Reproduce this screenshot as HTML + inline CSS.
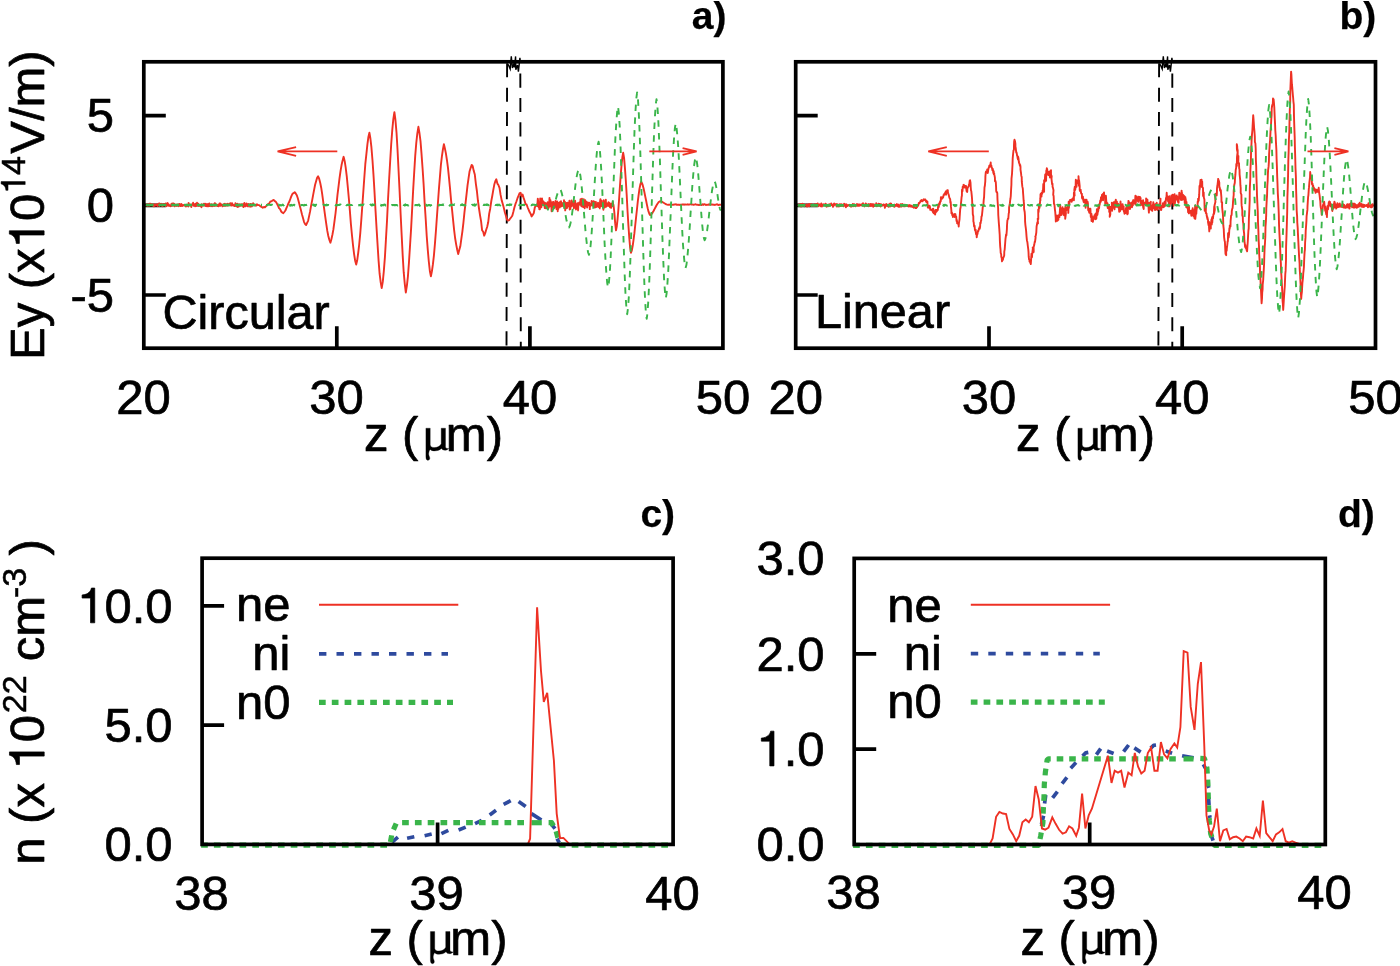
<!DOCTYPE html>
<html><head><meta charset="utf-8"><title>Figure</title>
<style>
html,body{margin:0;padding:0;background:#fff;}
body{width:1400px;height:966px;overflow:hidden;}
svg{display:block;font-family:"Liberation Sans",sans-serif;fill:#000;will-change:transform;}
</style></head><body>
<svg width="1400" height="966" viewBox="0 0 1400 966">
<rect width="1400" height="966" fill="#fff"/>
<path d="M336.8,348.2V326.2M529.9,348.2V326.2M143.8,115.7H165.8M143.8,205.3H165.8M143.8,295.0H165.8" stroke="#000" stroke-width="3.7" fill="none"/>
<line x1="507.1" y1="63.3" x2="506.5" y2="348.2" stroke="#000" stroke-width="1.9" stroke-dasharray="14.05 10.32" stroke-dashoffset="0"/>
<line x1="520.3" y1="63.3" x2="520.8" y2="348.2" stroke="#000" stroke-width="1.9" stroke-dasharray="14.05 10.32" stroke-dashoffset="-10.3"/>
<polyline points="508.1,64.2 510.2,68.9 511.3,56.4 512.4,68.0 513.7,64.2 514.5,67.2 515.6,56.4 515.8,69.7 517.5,65.0 518.4,71.7 519.9,57.9 520.5,62.9" fill="none" stroke="#000" stroke-width="1.4" stroke-linejoin="miter" />
<polyline points="145.7,204.8 146.0,205.4 146.3,204.8 146.6,204.7 146.9,204.3 147.2,204.8 147.5,205.9 147.8,205.3 148.1,205.8 148.4,205.2 148.7,205.3 149.0,205.1 149.3,203.7 149.6,205.7 149.9,205.4 150.2,205.4 150.5,203.6 150.8,203.6 151.1,204.3 151.4,204.6 151.7,205.2 152.0,205.0 152.3,205.4 152.6,204.5 152.9,205.2 153.2,205.3 153.5,204.5 153.8,206.4 154.1,205.4 154.4,206.0 154.7,204.5 155.0,204.4 155.3,204.7 155.6,204.9 155.9,205.5 156.2,205.2 156.5,204.6 156.8,204.2 157.1,204.6 157.4,206.0 157.7,204.3 158.0,205.2 158.3,205.3 158.6,203.8 158.9,205.0 159.2,206.1 159.5,203.4 159.8,204.7 160.1,204.9 160.4,204.3 160.7,205.4 161.0,204.9 161.3,203.8 161.6,205.7 161.9,205.5 162.2,205.8 162.5,206.2 162.8,205.3 163.1,205.1 163.4,204.0 163.7,205.5 164.0,204.5 164.3,204.6 164.6,204.0 164.9,204.2 165.2,204.6 165.5,206.0 165.8,203.4 166.1,203.8 166.4,205.2 166.7,206.2 167.0,205.5 167.3,203.5 167.6,203.0 167.9,205.3 168.2,204.4 168.5,204.1 168.8,205.8 169.1,205.9 169.4,205.1 169.7,205.2 170.0,205.4 170.3,206.3 170.6,205.5 170.9,205.4 171.2,205.4 171.5,203.7 171.8,206.0 172.1,205.8 172.4,205.4 172.7,203.4 173.0,204.5 173.3,205.7 173.6,203.5 173.9,204.9 174.2,205.8 174.5,203.9 174.8,206.3 175.1,205.4 175.4,204.9 175.7,205.3 176.0,205.5 176.3,205.1 176.6,205.9 176.9,204.5 177.2,204.7 177.5,205.8 177.8,205.0 178.1,204.3 178.4,205.8 178.7,206.2 179.0,204.6 179.3,203.9 179.6,204.9 179.9,204.9 180.2,204.8 180.5,206.1 180.8,204.2 181.1,206.0 181.4,204.0 181.7,204.4 182.0,205.5 182.3,205.9 182.6,205.7 182.9,205.3 183.2,205.1 183.5,205.1 183.8,205.5 184.1,204.9 184.4,205.2 184.7,205.5 185.0,205.0 185.3,205.6 185.6,205.5 185.9,206.6 186.2,205.3 186.5,204.7 186.8,204.7 187.1,205.0 187.4,205.7 187.7,204.7 188.0,205.3 188.3,206.5 188.6,202.9 188.9,204.1 189.2,205.2 189.5,205.3 189.8,205.2 190.1,204.7 190.4,205.5 190.7,205.2 191.0,204.6 191.3,207.0 191.6,205.3 191.9,204.6 192.2,204.9 192.5,204.8 192.8,204.9 193.1,202.8 193.4,204.6 193.7,205.8 194.0,204.1 194.3,204.9 194.6,205.8 194.9,205.7 195.2,206.2 195.5,203.6 195.8,204.7 196.1,204.7 196.4,205.5 196.7,205.9 197.0,202.8 197.3,205.9 197.6,203.8 197.9,205.6 198.2,203.8 198.5,205.1 198.8,206.0 199.1,204.9 199.4,205.2 199.7,205.6 200.0,205.1 200.3,204.9 200.6,206.2 200.9,205.8 201.2,204.8 201.5,207.2 201.8,204.1 202.1,205.7 202.4,204.8 202.7,205.1 203.0,205.6 203.3,205.2 203.6,205.5 203.9,203.8 204.2,203.8 204.5,205.5 204.8,204.2 205.1,204.2 205.4,203.8 205.7,206.0 206.0,205.6 206.3,206.2 206.6,204.2 206.9,205.0 207.2,204.1 207.5,205.6 207.8,206.3 208.1,204.3 208.4,206.3 208.7,205.8 209.0,204.9 209.3,203.4 209.6,206.1 209.9,204.9 210.2,204.5 210.5,205.3 210.8,205.3 211.1,206.2 211.4,204.2 211.7,205.9 212.0,206.2 212.3,206.2 212.6,204.9 212.9,204.4 213.2,205.8 213.5,205.1 213.8,205.1 214.1,206.1 214.4,204.8 214.7,203.1 215.0,204.7 215.3,203.5 215.6,205.7 215.9,205.3 216.2,204.5 216.5,205.0 216.8,205.7 217.1,205.1 217.4,206.1 217.7,205.0 218.0,205.8 218.3,206.2 218.6,206.3 218.9,204.5 219.2,205.7 219.5,203.5 219.8,204.1 220.1,203.4 220.4,205.9 220.7,204.0 221.0,205.0 221.3,204.8 221.6,205.0 221.9,204.5 222.2,205.2 222.5,206.4 222.8,205.0 223.1,205.4 223.4,205.8 223.7,204.8 224.0,204.0 224.3,204.6 224.6,205.9 224.9,203.7 225.2,204.5 225.5,205.8 225.8,205.6 226.1,205.0 226.4,205.6 226.7,205.1 227.0,204.0 227.3,203.7 227.6,204.5 227.9,205.7 228.2,204.5 228.5,204.3 228.8,204.4 229.1,203.8 229.4,204.9 229.7,204.0 230.0,205.3 230.3,203.1 230.6,205.3 230.9,204.5 231.2,203.4 231.5,205.6 231.8,204.8 232.1,203.2 232.4,204.3 232.7,205.2 233.0,204.6 233.3,205.6 233.6,205.6 233.9,205.5 234.2,205.3 234.5,206.1 234.8,205.5 235.1,205.4 235.4,203.3 235.7,205.7 236.0,206.1 236.3,204.8 236.6,204.6 236.9,206.6 237.2,203.6 237.5,205.4 237.8,207.0 238.1,204.3 238.4,205.6 238.7,206.5 239.0,204.9 239.3,205.5 239.6,205.7 239.9,204.3 240.2,204.9 240.5,205.2 240.8,205.7 241.1,205.0 241.4,204.8 241.7,204.2 242.0,204.7 242.3,205.7 242.6,205.1 242.9,204.3 243.2,204.3 243.5,207.1 243.8,205.9 244.1,205.5 244.4,202.9 244.7,205.5 245.0,205.4 245.3,206.4 245.6,205.3 245.9,204.9 246.2,205.4 246.5,203.4 246.8,205.8 247.1,205.3 247.4,204.4 247.7,206.1 248.0,206.5 248.3,203.9 248.6,204.5 248.9,205.2 249.2,205.1 249.5,204.7 249.8,204.2 250.1,206.7 250.4,205.8 250.7,204.0 251.0,203.9 251.3,206.4 251.6,205.8 251.9,206.5 252.2,205.7 252.5,204.3 252.8,205.2 253.1,203.3 253.4,204.4 253.7,205.0 254.0,205.4 254.3,204.4 254.6,204.9 254.9,205.4 255.2,205.3 255.5,205.5 255.8,205.2 256.1,204.7 256.4,205.6 256.7,205.0 257.0,204.3 258.0,205.0 259.2,205.1 260.4,206.3 261.6,206.9 262.8,207.7 263.9,207.0 265.0,207.3 266.1,206.2 267.2,204.7 268.2,204.0 269.3,203.4 270.4,201.4 271.5,201.4 272.6,200.3 273.7,200.0 274.8,201.1 275.8,201.8 276.9,203.6 278.0,205.7 279.0,208.1 280.1,209.2 281.2,211.5 282.2,212.5 283.3,213.2 284.3,212.0 285.4,210.5 286.4,208.2 287.4,205.9 288.5,203.2 289.5,201.3 290.6,198.2 291.6,195.7 292.6,193.6 293.7,193.1 294.7,192.2 295.7,193.4 296.8,195.2 297.8,198.2 298.8,201.9 299.9,206.2 300.9,210.0 302.0,214.5 303.0,217.9 304.0,221.8 305.1,224.1 306.1,225.0 307.1,222.8 308.1,220.8 309.1,216.1 310.1,211.4 311.1,205.7 312.1,200.6 313.1,195.1 314.1,189.9 315.1,184.8 316.1,181.3 317.1,177.8 318.1,176.3 319.1,178.5 320.2,182.8 321.2,187.7 322.2,194.1 323.2,201.6 324.2,209.1 325.3,217.1 326.3,224.2 327.3,230.9 328.3,236.0 329.4,240.0 330.4,242.7 331.4,239.2 332.4,234.7 333.4,229.4 334.5,221.1 335.5,213.5 336.5,204.4 337.5,194.6 338.5,186.6 339.5,178.4 340.6,170.7 341.6,164.8 342.6,160.4 343.6,156.8 344.7,161.2 345.7,167.6 346.8,176.7 347.8,187.2 348.9,199.0 349.9,211.2 350.9,224.0 352.0,235.5 353.1,246.0 354.1,254.1 355.1,260.4 356.2,264.5 357.2,260.3 358.2,253.0 359.2,244.5 360.3,232.8 361.3,219.9 362.3,206.0 363.3,191.9 364.3,177.7 365.3,164.2 366.4,153.8 367.4,144.3 368.4,137.0 369.4,132.6 370.4,138.5 371.4,147.2 372.5,160.5 373.5,175.1 374.5,191.9 375.5,210.1 376.6,228.7 377.6,245.1 378.6,260.9 379.6,273.7 380.7,282.4 381.7,288.1 382.8,281.7 383.8,271.4 384.9,257.4 385.9,240.1 387.0,220.9 388.0,200.0 389.1,179.8 390.2,160.7 391.2,144.2 392.3,129.6 393.3,119.4 394.4,112.2 395.4,119.7 396.5,132.3 397.5,149.3 398.5,169.2 399.6,191.2 400.6,213.5 401.7,235.8 402.7,255.6 403.7,272.2 404.8,284.1 405.8,292.5 406.9,285.6 407.9,276.6 408.9,263.3 410.0,246.1 411.1,228.6 412.1,209.9 413.1,191.1 414.2,172.4 415.2,156.1 416.3,142.7 417.3,133.7 418.4,126.8 419.4,132.7 420.5,141.1 421.5,153.6 422.6,168.7 423.6,184.0 424.6,202.1 425.7,219.0 426.7,235.7 427.8,250.1 428.8,261.5 429.9,271.3 430.9,276.3 431.9,271.4 432.9,264.4 433.9,255.6 434.9,244.2 435.9,231.2 436.9,217.1 437.9,203.2 438.9,189.4 439.9,177.2 440.9,164.8 441.9,156.4 442.9,149.5 443.9,144.2 444.9,148.5 445.9,153.4 447.0,160.5 448.0,168.1 449.0,177.8 450.0,188.2 451.0,199.7 452.1,210.1 453.1,220.2 454.1,229.8 455.1,238.0 456.2,244.6 457.2,249.8 458.2,254.0 459.2,250.3 460.3,246.3 461.3,239.1 462.4,231.3 463.4,222.8 464.4,212.9 465.5,203.4 466.5,194.7 467.5,185.7 468.6,177.9 469.6,171.2 470.7,167.8 471.7,164.9 472.7,166.2 473.8,171.1 474.8,174.5 475.9,184.1 476.9,191.0 477.9,200.5 479.0,208.5 480.0,215.1 481.1,221.3 482.1,230.3 483.2,231.8 484.2,235.7 485.2,233.2 486.2,229.7 487.2,226.8 488.2,222.3 489.2,213.6 490.2,208.7 491.3,201.0 492.3,195.8 493.3,189.9 494.3,184.6 495.3,181.2 496.3,179.3 497.4,183.6 498.4,185.0 499.5,187.8 500.6,194.9 501.7,200.4 502.7,203.7 503.8,207.7 504.9,212.5 506.0,216.0 507.0,219.8 508.1,220.6 509.1,220.1 510.2,218.5 511.2,217.3 512.3,215.7 513.3,212.0 514.4,207.5 515.4,204.2 516.4,201.5 517.5,198.2 518.5,195.8 519.6,193.1 520.6,192.8 521.6,196.2 522.6,194.6 523.6,197.9 524.6,200.7 525.6,204.2 526.6,204.5 527.6,207.3 528.6,209.6 529.6,212.1 530.6,213.7 531.6,216.4 532.7,214.9 533.8,213.0 534.8,207.5 535.9,205.4 537.0,206.0 537.5,203.0 537.8,198.6 538.1,200.8 538.4,205.1 538.7,207.3 539.0,204.5 539.3,209.2 539.6,202.2 539.9,209.2 540.2,198.5 540.5,204.5 540.8,205.9 541.1,206.4 541.4,207.3 541.7,201.7 542.0,198.4 542.3,203.8 542.6,200.5 542.9,204.8 543.2,201.4 543.5,203.8 543.8,204.2 544.1,204.9 544.4,202.5 544.7,208.0 545.0,202.6 545.3,204.0 545.6,205.9 545.9,204.5 546.2,208.4 546.5,204.1 546.8,203.2 547.1,207.5 547.4,205.9 547.7,202.1 548.0,203.2 548.3,205.1 548.6,208.1 548.9,206.8 549.2,204.7 549.5,197.9 549.8,206.2 550.1,201.0 550.4,200.1 550.7,202.5 551.0,204.8 551.3,204.6 551.6,211.3 551.9,203.9 552.2,202.3 552.5,207.6 552.8,204.9 553.1,203.2 553.4,202.0 553.7,204.3 554.0,208.4 554.3,206.2 554.6,203.6 554.9,206.9 555.2,205.0 555.5,201.0 555.8,206.4 556.1,206.0 556.5,209.0 556.8,204.3 557.1,201.4 557.4,206.4 557.7,211.2 558.0,202.7 558.3,209.0 558.6,204.7 558.9,206.3 559.2,204.6 559.5,202.3 559.8,207.4 560.1,203.6 560.4,205.2 560.7,206.2 561.0,201.2 561.3,206.4 561.6,205.9 561.9,204.0 562.2,203.1 562.5,205.6 562.8,205.9 563.1,204.3 563.4,205.4 563.7,204.8 564.0,200.2 564.3,207.9 564.6,207.6 564.9,201.7 565.2,210.4 565.5,204.4 565.8,203.7 566.1,205.9 566.4,208.3 566.7,202.9 567.0,208.1 567.3,205.2 567.6,202.7 567.9,206.2 568.2,203.8 568.5,205.8 568.8,206.5 569.1,204.5 569.4,200.8 569.7,209.5 570.0,209.1 570.3,209.0 570.6,205.1 570.9,206.7 571.2,206.5 571.5,200.4 571.8,203.8 572.1,204.8 572.4,202.2 572.7,204.9 573.0,205.9 573.3,203.7 573.6,201.1 573.9,208.4 574.2,207.0 574.5,205.0 574.8,206.1 575.1,200.7 575.4,205.1 575.7,204.7 576.0,209.5 576.3,206.6 576.6,204.3 576.9,208.5 577.2,206.3 577.5,203.2 577.8,203.7 578.1,210.4 578.4,203.1 578.7,203.3 579.0,204.1 579.3,202.5 579.6,204.5 579.9,204.7 580.2,204.7 580.5,199.3 580.8,200.7 581.1,200.3 581.4,206.2 581.7,204.8 582.0,198.7 582.3,205.4 582.6,206.7 582.9,203.8 583.2,204.5 583.5,207.0 583.8,199.2 584.1,204.7 584.4,206.2 584.7,208.3 585.0,204.2 585.3,200.2 585.6,204.9 585.9,201.4 586.2,203.6 586.5,206.3 586.8,201.9 587.1,207.5 587.4,205.8 587.7,205.2 588.0,204.5 588.3,202.8 588.6,205.0 588.9,204.7 589.2,202.6 589.5,203.9 589.8,209.1 590.1,203.9 590.4,206.3 590.7,204.4 591.0,205.4 591.3,205.0 591.6,201.0 591.9,204.5 592.2,203.0 592.5,205.0 592.8,201.8 593.1,206.0 593.4,202.8 593.7,201.2 594.0,206.4 594.4,201.8 594.7,207.5 595.0,207.4 595.3,203.7 595.6,207.2 595.9,202.0 596.2,207.1 596.5,205.0 596.8,206.1 597.1,204.5 597.4,205.7 597.7,206.6 598.0,202.6 598.3,203.5 598.6,206.4 598.9,207.1 599.2,204.4 599.5,205.0 599.8,208.4 600.1,200.8 600.4,199.1 600.7,206.4 601.0,205.9 601.3,206.2 601.6,200.8 601.9,205.0 602.2,204.2 602.5,204.2 602.8,205.5 603.1,206.6 603.4,209.7 603.7,200.3 604.0,202.1 604.3,201.6 604.6,207.5 604.9,203.0 605.2,205.0 605.5,205.4 605.8,199.6 606.1,206.7 606.4,206.2 606.7,203.4 607.0,203.5 607.3,203.7 607.6,205.3 607.9,204.9 608.2,206.0 608.5,202.1 608.8,202.8 609.1,204.6 609.4,204.8 609.7,203.1 610.0,207.2 610.3,205.2 610.6,206.1 610.9,205.5 611.2,207.9 611.5,203.8 611.8,204.3 612.1,206.1 612.4,205.7 612.7,201.8 613.0,203.6 613.5,205.0 614.3,212.0 615.2,223.4 616.0,230.4 616.8,226.2 617.6,218.9 618.4,209.1 619.2,197.6 620.0,185.6 620.8,174.1 621.6,164.3 622.4,157.0 623.2,152.8 624.1,158.2 624.9,167.7 625.8,180.3 626.7,195.1 627.5,210.5 628.4,225.3 629.3,237.9 630.1,247.4 631.0,252.8 631.9,250.2 632.7,245.9 633.5,240.2 634.4,233.2 635.2,225.5 636.1,217.2 637.0,209.0 637.8,201.3 638.7,194.3 639.5,188.6 640.4,184.3 641.2,181.7 642.0,183.1 642.8,185.4 643.6,188.5 644.4,192.2 645.2,196.3 646.1,200.5 646.9,204.6 647.7,208.3 648.5,211.4 649.3,213.7 650.1,215.1 650.9,214.6 651.8,213.8 652.6,212.6 653.4,211.3 654.2,209.8 655.0,208.2 655.9,206.5 656.7,205.0 657.5,203.7 658.4,202.5 659.2,201.7 660.0,201.2 660.8,201.4 661.6,201.7 662.4,202.0 663.2,202.5 664.0,203.0 664.8,203.5 665.6,204.0 666.4,204.3 667.2,204.6 668.0,204.8 669.0,204.7 669.7,204.7 670.4,204.5 671.1,204.4 671.8,204.6 672.5,204.8 673.2,204.8 673.9,204.5 674.6,204.4 675.3,204.5 676.0,204.2 676.7,204.8 677.4,204.8 678.1,204.6 678.8,204.7 679.5,205.0 680.2,204.6 680.9,204.6 681.6,204.8 682.4,204.4 683.1,204.7 683.8,204.4 684.5,204.8 685.2,204.4 685.9,204.6 686.6,204.6 687.3,204.3 688.0,204.5 688.7,204.7 689.4,204.5 690.1,204.4 690.8,204.4 691.5,204.5 692.2,204.6 692.9,204.5 693.6,204.9 694.3,204.7 695.0,204.5 695.7,204.2 696.4,204.6 697.1,204.8 697.8,204.6 698.5,205.0 699.2,205.0 699.9,204.9 700.6,204.6 701.3,205.1 702.0,204.8 702.7,204.2 703.4,204.9 704.1,204.3 704.8,204.3 705.5,204.8 706.2,205.0 706.9,204.6 707.6,204.8 708.4,204.9 709.1,204.2 709.8,204.7 710.5,204.8 711.2,204.4 711.9,204.8 712.6,204.5 713.3,204.7 714.0,204.6 714.7,205.0 715.4,204.7 716.1,204.6 716.8,204.2 717.5,204.4 718.2,205.1 718.9,204.7 719.6,204.8 720.3,204.8 721.0,204.3" fill="none" stroke="#ee3124" stroke-width="1.9" stroke-linejoin="round" />
<polyline points="145.7,205.0 262.0,205.0" fill="none" stroke="#3ab54a" stroke-width="2.7" stroke-dasharray="7.8 5.0" stroke-linejoin="round" />
<polyline points="266.0,204.9 266.6,204.9 267.2,205.3 267.8,204.7 268.4,204.8 269.0,204.8 269.6,204.7 270.2,204.9 270.8,205.0 271.4,204.7 272.0,204.7 272.6,205.1 273.2,205.6 273.8,205.1 274.4,204.6 275.0,205.2 275.6,205.3 276.2,205.1 276.8,205.1 277.4,204.9 278.0,205.1 278.6,204.6 279.2,205.1 279.8,205.5 280.4,205.1 281.0,205.5 281.6,205.3 282.2,205.1 282.8,204.6 283.4,205.4 284.0,205.1 284.6,204.4 285.2,205.6 285.8,205.4 286.4,205.5 287.0,205.6 287.6,205.0 288.2,205.1 288.8,204.8 289.4,205.4 290.0,205.0 290.6,205.7 291.2,204.8 291.8,205.3 292.4,205.5 293.0,205.1 293.6,204.9 294.2,204.7 294.8,205.5 295.4,205.4 296.0,205.6 296.6,204.9 297.2,205.6 297.8,205.2 298.4,205.3 299.0,205.2 299.6,204.9 300.2,205.0 300.8,205.4 301.4,205.0 302.0,205.1 302.6,205.1 303.2,205.2 303.8,205.5 304.4,204.8 305.0,205.2 305.6,204.9 306.2,205.0 306.8,204.8 307.4,204.5 308.0,204.9 308.6,204.6 309.2,205.5 309.8,204.6 310.4,204.8 311.0,205.1 311.6,204.9 312.2,205.5 312.8,205.0 313.4,204.5 314.0,205.4 314.6,204.9 315.2,206.0 315.8,204.7 316.4,204.8 317.0,205.0 317.6,204.6 318.2,205.2 318.8,205.5 319.4,205.6 320.0,205.2 320.6,205.0 321.2,205.5 321.8,205.5 322.4,205.0 323.0,204.8 323.6,204.7 324.2,205.1 324.8,205.0 325.4,205.3 326.0,205.4 326.6,204.6 327.2,205.2 327.8,205.1 328.4,204.9 329.0,205.1 329.6,205.5 330.2,205.0 330.8,205.0 331.4,204.9 332.0,205.1 332.6,204.8 333.2,205.2 333.8,204.6 334.4,204.8 335.0,205.1 335.7,205.5 336.3,204.8 336.9,205.0 337.5,205.2 338.1,204.9 338.7,205.1 339.3,205.1 339.9,204.6 340.5,204.5 341.1,205.1 341.7,204.7 342.3,205.0 342.9,205.1 343.5,204.7 344.1,204.7 344.7,204.7 345.3,205.4 345.9,204.2 346.5,205.3 347.1,205.0 347.7,204.7 348.3,205.1 348.9,204.9 349.5,204.7 350.1,204.9 350.7,205.0 351.3,205.1 351.9,205.0 352.5,204.9 353.1,204.2 353.7,204.7 354.3,205.1 354.9,205.2 355.5,204.7 356.1,204.7 356.7,204.6 357.3,204.5 357.9,205.1 358.5,205.3 359.1,205.0 359.7,205.1 360.3,205.5 360.9,204.6 361.5,205.0 362.1,205.0 362.7,205.3 363.3,204.5 363.9,204.5 364.5,205.1 365.1,204.8 365.7,205.1 366.3,205.2 366.9,205.2 367.5,205.3 368.1,205.1 368.7,205.0 369.3,204.5 369.9,205.3 370.5,204.6 371.1,205.0 371.7,205.4 372.3,204.4 372.9,205.2 373.5,204.7 374.1,205.0 374.7,204.4 375.3,204.3 375.9,205.1 376.5,205.7 377.1,205.3 377.7,205.0 378.3,205.0 378.9,205.6 379.5,205.5 380.1,204.8 380.7,204.7 381.3,205.6 381.9,204.9 382.5,205.2 383.1,205.4 383.7,204.7 384.3,204.8 384.9,204.5 385.5,205.4 386.1,204.9 386.7,205.3 387.3,204.6 387.9,205.2 388.5,204.7 389.1,204.9 389.7,204.6 390.3,204.9 390.9,205.2 391.5,204.9 392.1,204.9 392.7,205.2 393.3,204.9 393.9,205.2 394.5,205.0 395.1,205.3 395.7,204.9 396.3,205.1 396.9,205.1 397.5,205.5 398.1,205.1 398.7,204.6 399.3,204.6 399.9,205.0 400.5,204.9 401.1,204.7 401.7,204.8 402.3,205.3 402.9,204.4 403.5,205.1 404.1,204.9 404.7,205.5 405.3,204.4 405.9,205.2 406.5,204.9 407.1,205.0 407.7,205.2 408.3,205.6 408.9,205.1 409.5,205.2 410.1,204.6 410.7,205.2 411.3,204.6 411.9,205.0 412.5,205.2 413.1,205.5 413.7,205.3 414.3,205.1 414.9,205.3 415.5,204.9 416.1,205.0 416.7,205.0 417.3,205.3 417.9,204.9 418.5,204.7 419.1,204.6 419.7,205.8 420.3,204.3 420.9,205.0 421.5,204.9 422.1,204.9 422.7,204.7 423.3,205.2 423.9,205.0 424.5,204.7 425.1,204.9 425.7,204.6 426.3,205.1 426.9,205.7 427.5,205.5 428.1,205.3 428.7,205.0 429.3,205.0 429.9,205.2 430.5,205.6 431.1,205.0 431.7,205.0 432.3,204.6 432.9,205.0 433.5,205.1 434.1,204.8 434.7,204.7 435.3,205.0 435.9,205.1 436.5,204.8 437.1,205.3 437.7,204.9 438.3,205.1 438.9,205.5 439.5,204.8 440.1,205.0 440.7,204.9 441.3,204.9 441.9,205.1 442.5,204.5 443.1,205.1 443.7,204.5 444.3,204.8 444.9,205.3 445.5,204.4 446.1,205.4 446.7,205.6 447.3,205.4 447.9,205.2 448.5,205.0 449.1,204.9 449.7,205.7 450.3,204.7 450.9,205.0 451.5,205.2 452.1,204.8 452.7,204.6 453.3,205.1 453.9,205.0 454.5,204.4 455.1,204.8 455.7,204.7 456.3,204.9 456.9,205.2 457.5,205.3 458.1,204.6 458.7,205.0 459.3,204.8 459.9,204.5 460.5,205.2 461.1,204.8 461.7,204.9 462.3,204.3 462.9,205.2 463.5,205.0 464.1,205.2 464.7,204.8 465.3,205.5 465.9,205.1 466.5,204.8 467.1,205.1 467.7,205.2 468.3,204.8 468.9,205.4 469.5,205.2 470.1,205.3 470.7,205.3 471.3,205.9 471.9,205.0 472.5,204.8 473.1,205.2 473.7,205.0 474.3,204.3 475.0,205.7 475.6,205.2 476.2,204.5 476.8,204.8 477.4,205.1 478.0,204.9 478.6,204.9 479.2,205.1 479.8,205.3 480.4,205.3 481.0,205.1 481.6,205.1 482.2,204.5 482.8,204.5 483.4,205.0 484.0,204.8 484.6,205.0 485.2,204.7 485.8,204.8 486.4,205.0 487.0,204.3 487.6,204.6 488.2,205.2 488.8,205.0 489.4,204.6 490.0,205.1 490.6,205.5 491.2,205.4 491.8,204.6 492.4,204.8 493.0,204.4 493.6,204.8 494.2,204.6 494.8,204.7 495.4,205.1 496.0,204.9 496.6,204.9 497.2,204.5 497.8,205.3 498.4,204.9 499.0,204.5 499.6,205.0 500.2,205.4 500.8,204.5 501.4,205.1 502.0,204.6 502.6,205.3 503.2,205.2 503.8,204.9 504.4,204.7 505.0,204.5 505.6,204.7 506.2,205.3 506.8,205.1 507.4,205.0 508.0,204.8 508.6,204.9 509.2,205.2 509.8,204.2 510.4,204.8 511.0,205.0 511.6,204.6 512.2,204.8 512.8,204.9 513.4,204.6 514.0,204.6 514.6,204.5 515.2,204.7 515.8,205.0 516.4,205.2 517.0,204.9 517.6,204.9 518.2,204.7 518.8,205.0 519.4,204.8 520.0,205.3 520.6,205.0 521.2,205.3 521.8,205.1 522.4,205.0 523.0,205.0 523.6,204.7 524.2,205.2 524.8,204.9 525.4,204.7 526.0,205.0 526.6,205.2 527.2,205.0 527.8,204.2 528.4,204.8 529.0,205.0 529.6,205.1 530.2,204.7 530.8,205.0 531.4,205.2 532.0,205.1 532.6,204.4 533.2,204.7 533.8,204.7 534.4,204.8 535.0,204.9 535.6,205.3 536.2,204.9 536.8,204.6 537.4,204.5 538.0,205.2 538.6,204.6 539.2,204.9 539.8,205.4 540.4,205.5 541.0,205.5 541.6,204.6 542.2,205.5 542.8,205.0 543.4,205.3 544.0,205.0" fill="none" stroke="#3ab54a" stroke-width="2.0" stroke-dasharray="7.2 6.8" stroke-linejoin="round" />
<polyline points="545.0,205.0 545.8,205.5 546.6,206.7 547.4,208.4 548.3,210.2 549.1,211.9 549.9,213.1 550.7,213.6 551.5,212.8 552.4,211.3 553.2,209.0 554.1,206.1 554.9,203.0 555.8,199.6 556.6,196.5 557.5,193.6 558.3,191.3 559.2,189.8 560.0,189.0 560.8,190.2 561.6,192.6 562.5,196.2 563.3,200.7 564.1,205.7 564.9,210.8 565.7,215.8 566.5,220.3 567.4,223.9 568.2,226.3 569.0,227.5 569.8,225.9 570.6,222.7 571.5,218.1 572.3,212.2 573.1,205.5 573.9,198.4 574.7,191.3 575.5,184.6 576.3,178.7 577.2,174.1 578.0,170.9 578.8,169.3 579.6,171.6 580.5,176.3 581.3,183.1 582.2,191.7 583.0,201.6 583.9,212.1 584.8,222.5 585.6,232.4 586.5,241.0 587.3,247.8 588.1,252.5 589.0,254.8 589.8,251.7 590.6,245.5 591.4,236.5 592.2,225.1 593.0,212.1 593.8,198.2 594.6,184.4 595.4,171.4 596.2,160.0 597.0,151.0 597.8,144.8 598.6,141.7 599.5,146.2 600.3,155.5 601.2,169.1 602.1,185.9 602.9,204.8 603.8,224.4 604.6,243.3 605.5,260.1 606.4,273.7 607.2,283.0 608.1,287.5 608.9,282.6 609.8,272.7 610.6,258.2 611.4,240.0 612.2,219.1 613.0,197.0 613.9,174.8 614.7,153.9 615.5,135.7 616.4,121.2 617.2,111.3 618.0,106.4 618.8,112.8 619.7,126.1 620.5,145.4 621.3,169.4 622.2,196.3 623.0,224.3 623.9,251.2 624.7,275.2 625.5,294.5 626.4,307.8 627.2,314.2 628.0,308.2 628.9,296.0 629.7,278.3 630.5,256.0 631.3,230.5 632.2,203.4 633.0,176.2 633.8,150.7 634.6,128.4 635.5,110.7 636.3,98.5 637.1,92.5 637.9,98.6 638.7,111.0 639.5,129.2 640.3,151.9 641.1,177.9 641.9,205.6 642.7,233.4 643.5,259.4 644.3,282.1 645.1,300.3 645.9,312.7 646.7,318.8 647.5,312.9 648.3,300.8 649.2,283.2 650.0,261.1 650.8,235.9 651.6,209.0 652.4,182.0 653.2,156.8 654.0,134.7 654.9,117.1 655.7,105.0 656.5,99.1 657.3,105.2 658.2,118.0 659.0,136.5 659.9,159.5 660.7,185.3 661.6,212.1 662.4,237.9 663.3,260.9 664.1,279.4 665.0,292.2 665.8,298.3 666.6,293.6 667.4,284.0 668.3,269.9 669.1,252.3 669.9,232.2 670.8,210.8 671.6,189.3 672.4,169.2 673.2,151.6 674.1,137.5 674.9,127.9 675.7,123.2 676.5,127.1 677.3,135.1 678.2,146.7 679.0,161.2 679.8,177.9 680.6,195.7 681.4,213.4 682.2,230.1 683.0,244.6 683.9,256.2 684.7,264.2 685.5,268.1 686.4,265.1 687.2,259.0 688.0,250.1 688.9,239.0 689.8,226.2 690.6,212.6 691.5,199.0 692.3,186.2 693.2,175.1 694.0,166.2 694.9,160.1 695.7,157.1 696.5,159.7 697.3,165.0 698.1,172.7 698.9,182.3 699.7,193.1 700.6,204.3 701.4,215.1 702.2,224.7 703.0,232.4 703.8,237.7 704.6,240.3 705.4,238.7 706.2,235.5 707.1,230.7 707.9,224.8 708.7,218.0 709.5,210.8 710.4,203.5 711.2,196.7 712.0,190.8 712.9,186.0 713.7,182.8 714.5,181.2 715.4,183.1 716.3,187.2 717.2,192.8 718.1,199.1 719.0,204.7 719.9,208.8 720.8,210.7" fill="none" stroke="#3ab54a" stroke-width="1.9" stroke-dasharray="6.5 6.3" stroke-linejoin="round" />
<path d="M337.3,151.4H277.6M296.1,147.1L277.6,151.4L296.1,155.8" fill="none" stroke="#ee3124" stroke-width="1.8" stroke-linejoin="miter"/>
<path d="M649.3,151.4H696.6M682.6,148.1L696.6,151.4L682.6,154.8" fill="none" stroke="#ee3124" stroke-width="1.8" stroke-linejoin="miter"/>
<rect x="143.8" y="61.8" width="579.1" height="286.4" fill="none" stroke="#000" stroke-width="3.7"/>
<path d="M989.0,348.2V326.2M1182.2,348.2V326.2M795.7,115.7H817.7M795.7,205.3H817.7M795.7,295.0H817.7" stroke="#000" stroke-width="3.7" fill="none"/>
<line x1="1159.1" y1="63.3" x2="1158.4" y2="348.2" stroke="#000" stroke-width="1.9" stroke-dasharray="14.05 10.32" stroke-dashoffset="0"/>
<line x1="1172.3" y1="63.3" x2="1172.3" y2="348.2" stroke="#000" stroke-width="1.9" stroke-dasharray="14.05 10.32" stroke-dashoffset="-10.3"/>
<polyline points="1160.1,64.2 1162.2,68.9 1163.3,56.4 1164.4,68.0 1165.7,64.2 1166.5,67.2 1167.6,56.4 1167.8,69.7 1169.5,65.0 1170.4,71.7 1171.9,57.9 1172.5,62.9" fill="none" stroke="#000" stroke-width="1.4" stroke-linejoin="miter" />
<polyline points="797.6,206.0 797.9,205.2 798.2,205.3 798.5,205.1 798.8,204.6 799.1,205.2 799.4,205.9 799.7,204.4 800.0,205.3 800.3,204.4 800.6,204.3 800.9,204.0 801.2,206.6 801.5,205.4 801.8,205.0 802.1,206.0 802.4,203.7 802.7,205.3 803.0,204.8 803.3,205.8 803.6,204.2 803.9,205.3 804.2,205.2 804.5,206.3 804.8,204.8 805.1,205.2 805.4,205.6 805.7,205.6 806.0,205.7 806.3,205.3 806.6,204.5 806.9,206.2 807.2,206.6 807.5,205.3 807.8,204.7 808.1,206.1 808.4,204.5 808.7,205.4 809.0,204.0 809.3,206.3 809.6,204.3 809.9,205.5 810.2,204.7 810.5,204.9 810.8,204.3 811.1,205.2 811.4,204.3 811.7,206.0 812.0,204.5 812.3,205.1 812.6,205.8 812.9,205.8 813.2,205.9 813.5,206.0 813.8,205.5 814.1,205.8 814.4,205.9 814.7,204.2 815.0,205.2 815.3,205.3 815.6,205.1 815.9,205.7 816.2,204.4 816.5,204.1 816.8,204.7 817.1,205.6 817.4,204.5 817.7,203.4 818.0,206.2 818.3,206.2 818.6,205.7 818.9,205.1 819.2,205.1 819.5,204.3 819.8,204.4 820.1,205.9 820.4,204.9 820.7,206.2 821.0,205.1 821.3,203.5 821.6,205.4 821.9,206.5 822.2,205.5 822.5,204.7 822.8,204.7 823.1,205.7 823.4,204.6 823.7,204.2 824.0,205.4 824.3,205.3 824.6,204.7 824.9,204.4 825.2,205.5 825.5,203.8 825.8,204.7 826.1,204.8 826.4,206.7 826.7,204.4 827.0,205.7 827.3,205.1 827.6,206.1 827.9,206.4 828.2,205.0 828.5,205.4 828.8,204.5 829.1,204.9 829.4,205.8 829.7,204.2 830.0,204.6 830.3,205.2 830.6,205.0 830.9,204.9 831.2,203.5 831.5,205.0 831.8,205.1 832.1,205.2 832.4,205.3 832.7,205.9 833.0,206.9 833.3,204.3 833.6,204.5 833.9,205.6 834.2,203.5 834.5,204.3 834.8,204.5 835.1,204.3 835.4,204.3 835.7,204.2 836.0,204.5 836.3,205.5 836.6,206.4 836.9,203.9 837.2,205.6 837.5,205.6 837.8,205.5 838.1,206.6 838.4,205.5 838.7,206.2 839.0,204.6 839.3,204.2 839.6,206.3 839.9,205.4 840.2,204.2 840.5,205.2 840.8,205.9 841.1,204.6 841.4,205.5 841.7,204.2 842.0,205.7 842.3,205.4 842.6,205.1 842.9,205.0 843.2,205.1 843.5,206.3 843.8,206.2 844.1,203.6 844.4,204.4 844.7,205.1 845.0,205.2 845.3,204.4 845.6,205.9 845.9,207.3 846.2,204.3 846.5,204.4 846.8,205.3 847.1,206.1 847.4,205.9 847.7,205.3 848.0,205.6 848.3,205.3 848.6,205.2 848.9,205.0 849.2,204.8 849.5,205.5 849.8,205.1 850.1,205.5 850.4,204.9 850.7,206.5 851.0,205.3 851.3,205.3 851.6,206.5 851.9,205.3 852.2,205.4 852.5,205.4 852.8,203.9 853.1,206.0 853.4,204.2 853.7,206.2 854.0,205.8 854.3,205.0 854.6,204.3 854.9,205.8 855.2,204.9 855.5,206.4 855.8,204.9 856.1,205.3 856.4,205.2 856.7,204.3 857.0,204.0 857.3,205.8 857.6,205.5 857.9,205.1 858.2,204.7 858.5,205.8 858.8,204.5 859.1,205.9 859.4,205.5 859.7,204.4 860.0,204.8 860.3,205.0 860.6,204.8 860.9,205.4 861.2,204.5 861.5,204.5 861.8,204.3 862.1,204.5 862.4,205.6 862.7,205.6 863.0,203.3 863.3,205.4 863.6,204.2 863.9,205.1 864.2,205.5 864.5,206.4 864.8,205.0 865.1,205.5 865.4,204.6 865.7,203.5 866.0,203.8 866.3,205.7 866.6,204.2 866.9,204.9 867.2,206.0 867.5,205.8 867.8,204.7 868.1,204.8 868.4,204.2 868.7,206.4 869.0,204.3 869.3,205.2 869.6,205.2 869.9,205.1 870.2,206.0 870.5,203.9 870.8,204.4 871.1,205.4 871.4,205.0 871.7,205.9 872.0,203.9 872.3,205.9 872.6,204.4 872.9,205.0 873.2,206.8 873.5,205.6 873.8,204.1 874.1,205.8 874.4,204.8 874.7,206.1 875.0,205.7 875.3,205.4 875.6,204.7 875.9,205.2 876.2,203.3 876.5,205.3 876.8,206.3 877.1,204.8 877.4,204.4 877.7,205.4 878.0,205.8 878.3,205.2 878.6,203.8 878.9,204.9 879.2,205.3 879.5,205.7 879.8,203.9 880.1,205.3 880.4,206.3 880.7,206.5 881.0,204.2 881.3,204.3 881.6,205.1 881.9,204.8 882.2,204.9 882.5,205.4 882.8,205.7 883.1,205.0 883.4,204.5 883.7,204.4 884.0,204.9 884.3,204.7 884.6,205.2 884.9,207.9 885.2,206.0 885.5,204.9 885.8,205.5 886.1,204.2 886.4,204.1 886.7,205.8 887.0,206.1 887.3,204.7 887.6,206.0 887.9,205.4 888.2,205.2 888.5,206.8 888.8,205.1 889.1,204.2 889.4,205.3 889.7,205.1 890.0,206.6 890.3,203.5 890.6,206.1 890.9,205.4 891.2,203.7 891.5,205.8 891.8,205.1 892.1,205.7 892.4,205.3 892.7,205.3 893.0,205.5 893.3,206.2 893.6,205.5 893.9,205.8 894.2,204.6 894.5,206.9 894.8,204.6 895.1,206.2 895.4,205.6 895.7,204.9 896.0,205.4 896.3,205.8 896.6,205.0 896.9,204.1 897.2,204.7 897.5,206.4 897.8,204.9 898.1,204.5 898.4,205.7 898.7,206.3 899.0,207.0 899.3,205.8 899.6,205.2 899.9,205.8 900.2,205.3 900.5,204.2 900.8,206.6 901.1,206.5 901.4,204.3 901.7,206.6 902.0,205.6 902.3,204.9 902.6,204.1 902.9,205.5 903.2,205.2 903.5,206.0 903.8,206.3 904.1,206.3 904.4,204.7 904.7,204.9 905.0,206.2 905.3,205.2 905.6,204.8 905.9,204.9 906.2,205.8 906.5,205.9 906.8,205.8 907.1,205.5 907.4,205.7 907.7,206.0 908.0,206.1 908.3,206.5 908.6,205.3 908.9,205.3 909.2,205.4 909.5,205.7 909.8,205.0 910.1,206.7 910.2,205.3 910.4,205.6 910.8,205.9 911.1,205.7 911.3,205.7 911.7,205.6 911.9,206.4 912.2,207.0 912.5,206.7 912.8,206.8 913.1,206.5 913.4,206.7 913.7,207.7 914.0,206.7 914.4,207.1 914.6,207.4 915.0,207.3 915.2,207.5 915.5,208.0 915.8,207.8 916.2,208.1 916.5,207.5 916.7,206.8 917.1,207.0 917.3,206.2 917.7,206.3 917.9,205.2 918.2,205.4 918.5,204.2 918.8,203.0 919.1,203.7 919.4,203.1 919.8,202.7 920.1,202.1 920.3,201.7 920.6,200.8 920.9,201.1 921.2,200.7 921.5,200.1 921.8,201.3 922.1,200.9 922.5,201.2 922.7,200.7 923.1,200.6 923.3,199.9 923.7,199.3 923.9,200.2 924.2,200.1 924.5,199.5 924.8,199.7 925.1,199.6 925.4,199.5 925.8,200.6 926.1,201.9 926.4,200.8 926.6,202.1 927.1,202.2 927.4,201.6 927.5,203.7 927.8,207.5 928.0,205.1 928.3,205.9 928.8,206.2 928.9,207.8 929.2,207.8 929.5,205.8 929.9,206.5 930.3,209.8 930.6,209.6 930.7,209.4 931.1,209.7 931.4,209.9 931.6,210.2 932.1,210.0 932.4,209.3 932.7,211.4 933.1,212.5 933.2,208.6 933.6,212.2 933.8,213.4 934.1,210.9 934.4,211.3 934.9,213.4 935.1,214.6 935.5,211.6 935.5,210.0 936.1,212.0 936.2,210.0 936.5,211.6 936.9,211.2 937.1,209.7 937.3,210.5 937.8,210.1 938.2,205.2 938.5,204.2 938.8,206.9 938.9,204.7 939.3,203.3 939.7,204.3 939.9,201.9 940.1,202.7 940.6,200.4 940.8,201.3 940.9,197.1 941.4,197.6 941.6,197.3 941.8,198.8 942.1,198.7 942.5,198.3 942.8,197.1 943.2,197.2 943.6,195.0 943.8,194.8 944.0,195.1 944.4,193.7 944.7,193.6 944.9,194.4 945.2,192.6 945.6,193.3 945.7,191.5 946.1,194.7 946.5,191.2 946.9,191.9 947.0,191.5 947.2,190.3 947.8,190.2 947.9,192.2 948.2,193.3 948.5,194.1 949.0,196.0 949.1,196.6 949.4,197.9 949.9,198.5 950.2,199.4 950.4,202.6 950.7,201.9 951.0,206.9 951.4,210.8 951.4,213.2 951.9,212.5 952.3,215.4 952.5,214.1 952.9,217.0 953.1,214.7 953.3,216.5 953.7,215.1 954.0,216.5 954.2,214.1 954.7,217.0 954.9,214.0 955.1,214.9 955.4,214.2 955.6,215.9 956.2,216.6 956.5,220.9 956.8,220.0 957.1,222.0 957.1,223.2 957.6,223.1 958.0,223.9 958.3,223.1 958.5,223.7 958.7,226.5 959.0,222.5 959.5,219.6 959.7,216.5 959.9,213.8 960.2,209.2 960.7,206.9 961.0,203.0 961.2,201.3 961.6,197.0 961.9,195.8 962.0,189.8 962.5,191.2 962.7,186.7 963.0,186.5 963.4,187.6 963.5,184.9 963.8,184.8 964.2,186.9 964.4,186.3 964.8,187.3 965.0,187.6 965.2,185.9 965.6,186.4 966.0,186.0 966.1,187.1 966.6,191.1 966.9,190.2 967.2,192.0 967.4,188.6 967.9,187.3 968.1,186.9 968.3,186.8 968.8,185.8 968.9,184.7 969.3,184.1 969.7,180.6 969.7,183.4 970.1,180.3 970.5,182.6 970.7,186.7 971.0,190.5 971.3,191.2 971.7,194.8 972.1,199.5 972.3,204.6 972.6,207.0 972.8,214.3 973.3,216.3 973.4,221.5 973.7,222.3 974.1,226.3 974.5,225.7 974.6,225.7 974.9,229.8 975.2,230.7 975.7,229.8 975.8,232.6 976.1,234.3 976.6,234.1 976.7,237.3 977.1,233.8 977.2,234.7 977.6,233.4 977.9,230.9 978.2,230.9 978.4,231.1 978.9,228.8 979.3,228.9 979.4,227.1 979.7,228.8 980.1,226.7 980.3,222.6 980.6,223.4 981.1,220.2 981.2,220.6 981.5,216.4 981.9,216.0 982.1,213.9 982.6,209.1 982.7,207.3 983.1,206.3 983.3,205.9 983.7,200.2 984.1,196.8 984.3,192.1 984.5,187.5 984.9,185.5 985.3,181.2 985.4,176.4 985.8,172.1 986.1,171.4 986.3,172.2 986.6,172.1 987.1,172.5 987.2,169.4 987.7,173.1 988.0,171.7 988.1,170.6 988.3,169.4 988.8,167.5 989.1,167.2 989.3,165.7 989.8,165.3 989.9,166.9 990.2,166.3 990.7,162.5 990.8,165.1 991.1,165.3 991.4,165.6 991.7,166.9 992.1,168.4 992.4,170.3 992.8,168.8 993.1,171.0 993.3,172.8 993.7,171.1 993.8,174.3 994.2,173.3 994.4,174.9 994.9,177.7 995.0,181.2 995.3,180.5 995.8,182.2 996.1,187.4 996.2,191.0 996.6,192.3 997.0,192.1 997.3,193.2 997.5,199.8 997.9,205.5 998.1,207.5 998.3,215.3 998.8,222.6 999.1,226.3 999.2,227.6 999.7,235.0 999.9,241.1 1000.2,246.6 1000.5,249.4 1000.7,253.0 1001.2,254.4 1001.3,256.9 1001.7,257.8 1002.0,261.3 1002.2,260.4 1002.6,259.1 1002.9,259.9 1003.3,257.4 1003.4,257.7 1003.8,256.7 1004.2,255.5 1004.3,251.6 1004.7,249.3 1004.9,246.6 1005.2,242.8 1005.5,238.8 1005.9,236.0 1006.1,234.4 1006.4,235.5 1006.9,229.2 1007.0,225.6 1007.4,220.3 1007.6,219.8 1007.9,218.7 1008.3,218.8 1008.7,213.5 1009.0,212.5 1009.1,207.4 1009.4,205.7 1009.9,203.2 1010.2,200.1 1010.5,198.5 1010.8,195.8 1011.1,189.6 1011.4,184.8 1011.5,178.6 1012.0,174.0 1012.2,170.5 1012.5,164.7 1012.7,158.3 1013.1,154.0 1013.5,150.4 1013.9,150.0 1014.0,144.6 1014.2,141.1 1014.5,139.7 1015.0,141.2 1015.4,144.0 1015.4,146.5 1015.7,147.9 1016.2,152.3 1016.5,152.3 1016.8,153.7 1017.1,156.0 1017.3,155.4 1017.6,157.9 1018.0,159.5 1018.1,156.6 1018.5,158.5 1018.8,161.5 1019.0,162.8 1019.4,163.3 1019.9,165.8 1020.2,164.8 1020.5,167.0 1020.5,169.7 1021.0,173.0 1021.3,175.7 1021.7,177.1 1021.8,181.7 1022.1,184.3 1022.3,186.4 1022.8,188.6 1023.1,193.2 1023.3,195.8 1023.6,200.2 1024.0,204.2 1024.1,209.0 1024.7,212.0 1025.0,216.3 1025.1,221.7 1025.4,225.1 1025.7,227.3 1026.1,230.6 1026.2,231.9 1026.5,236.1 1026.9,240.2 1027.4,242.3 1027.6,243.9 1027.7,245.0 1028.3,249.7 1028.5,251.9 1028.7,256.7 1029.1,259.6 1029.4,259.6 1029.5,261.4 1029.9,261.0 1030.3,263.0 1030.3,260.1 1030.8,264.1 1031.4,254.8 1031.5,253.6 1032.0,257.3 1032.2,253.6 1032.2,253.9 1032.9,248.1 1032.7,247.6 1033.5,252.4 1033.7,251.3 1033.6,247.2 1034.2,245.1 1034.7,241.9 1034.9,241.6 1035.0,242.0 1035.6,237.5 1035.3,236.5 1035.7,236.2 1036.3,232.5 1036.4,230.5 1036.6,226.5 1037.4,222.2 1037.6,222.7 1038.0,223.5 1037.7,218.6 1038.3,219.2 1038.2,209.6 1038.6,212.2 1039.1,204.2 1039.4,208.1 1039.6,207.0 1040.3,199.2 1040.2,198.2 1040.4,200.6 1040.5,194.3 1040.9,193.5 1041.5,196.6 1041.6,193.0 1042.1,192.2 1042.2,193.8 1042.9,190.1 1042.5,191.0 1043.0,190.6 1043.3,184.0 1043.8,184.9 1044.1,191.8 1044.1,180.2 1044.7,181.9 1045.2,174.5 1045.4,177.1 1045.5,175.6 1046.1,180.8 1046.3,170.5 1046.4,174.3 1046.8,168.2 1047.2,169.4 1047.4,174.6 1047.5,171.0 1048.4,174.7 1048.4,171.7 1048.5,175.0 1048.9,174.1 1049.5,174.5 1049.6,171.4 1049.8,176.3 1050.0,177.6 1050.4,176.9 1051.0,170.3 1051.0,174.7 1051.7,176.2 1051.5,178.8 1052.1,184.2 1052.5,183.7 1052.6,186.8 1052.9,187.6 1053.5,190.3 1053.2,194.9 1053.6,195.8 1054.0,204.0 1054.4,204.4 1055.0,210.3 1055.2,211.7 1055.7,217.9 1055.8,221.5 1056.3,220.1 1056.2,219.5 1056.7,220.3 1057.2,215.7 1057.0,215.5 1057.4,220.8 1057.8,217.5 1058.3,219.7 1058.4,219.8 1058.5,216.0 1059.1,214.8 1059.5,215.2 1059.4,217.1 1060.3,205.4 1060.0,209.4 1060.6,211.9 1060.6,209.6 1060.9,214.6 1061.1,215.1 1061.9,208.1 1062.1,212.4 1062.3,208.5 1062.5,207.2 1063.0,209.8 1063.3,214.6 1063.6,208.9 1064.0,215.2 1064.0,210.6 1064.6,214.7 1064.3,214.8 1065.0,212.2 1065.3,207.0 1065.2,218.8 1065.9,213.4 1065.8,212.3 1066.0,207.7 1066.4,210.2 1067.2,208.4 1066.9,209.7 1067.6,209.1 1067.4,206.1 1068.2,206.4 1068.3,212.9 1068.7,201.6 1068.9,208.0 1069.1,204.7 1069.6,202.6 1069.5,201.4 1070.3,200.6 1070.1,199.9 1071.0,201.0 1071.3,200.5 1071.2,200.1 1071.5,199.4 1071.7,201.7 1072.4,199.2 1072.9,198.5 1072.7,198.6 1073.4,197.9 1073.7,196.7 1073.9,200.2 1073.9,192.7 1074.6,195.6 1074.3,189.9 1074.8,186.7 1075.2,190.0 1075.7,185.9 1075.6,186.7 1075.8,179.8 1076.5,186.9 1076.2,183.9 1076.6,183.8 1077.4,182.8 1077.2,182.2 1077.5,180.5 1078.1,183.2 1078.6,181.9 1078.7,185.6 1078.5,176.3 1079.0,183.9 1079.1,180.3 1079.7,186.0 1079.7,190.0 1080.0,190.9 1080.8,189.9 1080.6,190.0 1081.1,193.0 1081.2,193.7 1081.9,193.7 1082.0,197.9 1082.3,198.5 1082.9,196.6 1083.2,200.1 1083.4,199.2 1083.2,198.1 1083.6,201.9 1084.0,202.3 1084.2,200.4 1084.2,201.8 1085.0,200.6 1085.2,199.6 1085.6,207.8 1085.9,201.5 1085.9,200.8 1086.6,204.4 1086.5,199.6 1086.6,203.4 1087.5,205.1 1087.7,202.8 1087.6,201.8 1087.9,203.4 1088.2,210.2 1088.9,211.0 1089.3,212.8 1089.2,211.3 1089.7,208.7 1090.2,211.3 1089.8,212.9 1090.4,208.7 1090.8,217.0 1091.1,215.9 1091.5,213.9 1091.5,221.0 1091.9,215.9 1092.0,217.3 1092.5,217.9 1092.8,219.0 1092.9,221.9 1093.5,217.4 1093.6,216.9 1093.7,218.9 1094.5,215.1 1094.5,217.5 1095.0,218.0 1095.3,219.3 1095.4,214.1 1096.0,213.2 1096.3,218.7 1096.5,215.9 1096.8,215.3 1096.7,214.2 1096.9,209.1 1097.4,215.0 1097.7,212.5 1098.3,210.6 1098.4,205.2 1098.8,208.1 1099.0,208.4 1099.1,208.2 1099.4,203.9 1099.6,205.2 1099.9,203.2 1100.3,200.5 1100.3,201.0 1100.7,201.9 1101.0,197.1 1101.2,200.9 1101.8,197.1 1102.0,194.8 1102.5,194.5 1102.3,194.9 1102.9,194.0 1103.1,200.3 1103.4,194.4 1103.7,193.6 1104.0,192.4 1104.2,195.2 1105.0,197.7 1105.1,196.0 1105.2,203.7 1105.5,202.6 1105.9,195.8 1106.4,202.8 1106.2,201.1 1106.8,203.0 1107.4,203.1 1107.7,208.0 1107.7,203.9 1108.2,208.0 1108.4,208.4 1108.3,206.5 1109.0,205.6 1109.3,209.2 1109.2,211.6 1109.9,213.2 1109.7,216.7 1110.3,214.5 1110.3,209.6 1110.8,206.8 1110.8,209.0 1111.5,206.6 1112.1,210.8 1111.8,202.8 1112.2,206.8 1112.9,206.4 1112.7,205.5 1113.0,207.8 1113.7,202.1 1113.7,203.7 1113.7,202.7 1114.5,209.4 1114.8,203.9 1114.6,205.5 1115.2,201.3 1115.4,205.3 1115.8,199.6 1115.8,206.9 1116.6,202.9 1116.4,203.8 1116.9,201.6 1117.0,206.9 1117.3,206.1 1117.9,203.7 1118.2,203.8 1118.6,205.1 1118.5,207.8 1118.8,206.2 1119.2,211.7 1119.1,207.9 1119.8,208.6 1120.0,211.3 1120.5,201.4 1120.7,205.2 1120.7,206.1 1120.9,209.6 1121.7,204.6 1121.4,205.9 1122.2,207.8 1122.4,204.7 1122.4,209.4 1122.6,204.1 1122.8,206.6 1123.7,206.5 1123.6,208.1 1123.9,211.7 1124.3,212.0 1124.5,213.7 1125.1,211.7 1125.5,213.0 1125.4,211.7 1125.8,209.8 1125.8,208.3 1126.3,209.2 1126.7,206.0 1126.6,211.6 1127.4,214.4 1127.8,213.6 1128.0,206.3 1127.9,207.5 1128.5,200.9 1128.3,206.6 1128.8,208.1 1129.2,202.2 1129.1,205.7 1130.0,205.2 1130.2,203.7 1130.0,209.1 1130.6,205.6 1131.2,202.8 1131.2,205.8 1131.4,204.3 1131.5,203.6 1132.2,202.2 1132.1,207.2 1132.3,205.6 1132.9,205.2 1133.1,200.3 1133.1,202.2 1133.8,202.9 1133.7,200.3 1134.2,200.9 1134.7,202.6 1135.2,202.7 1135.0,203.9 1135.4,195.8 1135.5,204.6 1135.8,203.0 1136.3,198.5 1136.6,199.4 1136.7,196.4 1137.2,198.8 1137.3,197.9 1137.6,200.3 1138.0,201.4 1138.7,196.8 1138.4,201.9 1139.3,197.8 1139.4,198.0 1139.9,196.9 1139.8,198.5 1140.2,199.7 1140.6,197.9 1140.6,205.4 1141.2,200.7 1141.6,204.4 1141.9,203.0 1142.1,202.3 1142.6,205.6 1142.7,203.4 1143.1,200.1 1143.1,206.9 1143.7,209.1 1143.7,202.9 1144.0,204.1 1144.5,203.3 1144.8,203.6 1144.7,204.1 1145.0,202.4 1145.9,204.2 1146.2,202.5 1146.1,198.5 1146.6,205.2 1146.8,199.7 1146.8,199.1 1147.5,199.8 1147.3,203.8 1147.6,202.5 1148.5,203.6 1148.2,202.4 1148.9,212.6 1149.2,205.6 1149.5,209.7 1149.5,205.0 1150.1,209.5 1150.0,202.8 1150.8,201.7 1150.5,206.7 1151.4,208.3 1151.6,205.7 1151.5,208.6 1151.8,210.4 1152.3,210.8 1152.7,205.0 1152.8,208.2 1153.3,202.3 1153.8,208.2 1153.5,204.4 1154.2,208.0 1154.5,204.5 1154.9,206.6 1155.0,206.2 1155.0,210.1 1155.6,209.4 1156.0,203.8 1156.0,206.7 1156.4,208.0 1156.7,202.7 1156.9,205.2 1157.4,210.0 1157.9,206.4 1158.2,204.7 1158.1,206.9 1158.5,204.7 1159.3,205.1 1159.6,207.9 1159.7,208.7 1159.9,204.9 1160.5,198.6 1160.3,206.5 1161.0,208.7 1160.8,209.9 1161.2,210.0 1161.9,205.8 1161.9,205.8 1162.4,207.2 1162.9,203.3 1163.3,205.4 1163.5,204.8 1163.7,204.1 1163.8,207.2 1164.3,203.7 1164.6,201.7 1164.9,206.1 1165.4,200.9 1165.7,203.2 1165.4,205.0 1166.0,197.9 1166.3,200.0 1166.7,192.8 1167.0,199.5 1166.9,196.2 1167.8,197.9 1167.8,196.8 1168.1,201.4 1168.5,200.6 1168.8,199.9 1168.8,206.4 1169.3,196.2 1169.7,206.2 1170.1,201.2 1170.5,199.8 1170.6,201.1 1170.5,199.6 1171.1,203.6 1171.3,196.9 1171.4,195.4 1171.7,200.2 1172.4,201.6 1172.3,202.3 1172.7,194.7 1173.5,204.7 1173.3,197.4 1173.6,205.8 1174.0,198.4 1174.2,200.0 1174.6,194.1 1174.8,203.9 1175.1,201.7 1175.8,197.5 1176.0,199.4 1176.0,196.6 1176.7,195.4 1177.0,199.3 1177.3,198.2 1177.7,200.9 1177.8,197.2 1177.9,201.7 1178.6,202.7 1178.7,198.9 1178.9,199.3 1179.1,196.4 1179.3,192.6 1180.0,195.4 1180.1,197.0 1180.4,195.1 1180.9,199.9 1181.3,195.1 1181.6,190.6 1181.9,200.0 1181.9,192.4 1182.2,199.6 1182.4,199.2 1182.9,194.7 1183.3,198.6 1183.3,196.9 1183.4,195.3 1184.2,200.0 1184.4,196.1 1184.6,198.1 1184.7,203.0 1185.4,197.2 1185.2,199.8 1185.7,198.8 1186.3,207.3 1186.5,201.9 1186.7,206.5 1187.0,205.3 1187.3,205.5 1187.1,206.2 1187.8,209.0 1187.8,206.5 1188.1,212.3 1188.9,211.6 1189.1,207.0 1188.9,213.4 1189.7,210.5 1189.8,211.2 1189.8,211.3 1190.3,212.5 1190.6,211.9 1191.1,211.1 1190.9,212.5 1191.4,215.8 1191.7,210.4 1192.3,211.5 1192.2,215.0 1192.7,208.3 1192.7,212.7 1193.3,212.1 1193.5,216.4 1194.0,214.2 1194.2,209.9 1194.5,214.3 1194.5,218.3 1195.2,205.5 1195.6,208.2 1195.3,218.9 1195.8,213.7 1196.3,213.8 1196.6,209.0 1196.5,210.1 1197.0,207.0 1197.5,207.1 1197.7,201.6 1198.1,201.9 1198.1,198.8 1198.7,200.6 1199.2,194.7 1199.5,185.9 1199.6,190.0 1199.6,186.9 1199.8,188.4 1200.5,179.9 1200.5,179.9 1201.1,179.9 1201.6,179.7 1201.4,182.2 1201.8,186.8 1202.2,181.4 1202.3,186.9 1203.0,188.1 1203.1,196.0 1203.7,192.5 1203.8,196.3 1203.8,197.3 1204.4,199.6 1204.5,204.2 1204.7,210.7 1205.6,206.3 1205.9,205.9 1205.8,213.1 1206.4,213.6 1206.1,213.1 1206.5,213.4 1206.7,215.8 1207.5,219.3 1207.3,217.0 1208.1,220.4 1208.0,222.0 1208.6,225.4 1208.9,221.8 1208.9,224.9 1209.3,231.4 1209.4,225.1 1209.8,226.4 1210.3,223.0 1210.7,223.4 1210.8,228.6 1210.8,225.5 1211.4,219.6 1211.9,224.4 1211.8,218.7 1212.3,216.9 1212.3,222.5 1212.6,216.6 1213.0,218.4 1213.4,214.1 1213.9,213.9 1214.2,206.6 1214.0,214.0 1214.8,209.8 1214.5,205.5 1215.4,202.0 1215.2,196.3 1215.8,193.6 1216.2,195.2 1216.1,194.5 1216.7,195.4 1216.9,192.7 1217.0,188.4 1217.4,185.2 1217.5,185.2 1218.2,178.9 1218.1,182.0 1218.7,180.1 1218.9,181.3 1219.3,182.6 1219.3,187.4 1219.7,187.3 1220.1,190.6 1220.2,189.0 1220.9,190.7 1220.9,191.7 1221.4,197.4 1221.5,202.2 1222.1,202.3 1222.1,206.9 1222.7,212.8 1222.7,211.5 1223.1,217.5 1223.3,225.4 1223.8,229.7 1223.8,230.5 1224.1,237.0 1224.6,240.9 1224.9,241.6 1225.2,247.9 1225.5,254.0 1225.8,254.3 1226.2,255.2 1226.1,249.3 1226.7,250.8 1227.0,246.2 1227.0,247.5 1227.5,243.0 1227.6,241.2 1227.9,241.3 1228.1,233.1 1228.6,237.5 1229.1,233.8 1229.4,228.1 1229.6,229.1 1229.7,228.5 1229.8,225.4 1230.5,226.5 1230.6,221.1 1231.1,215.6 1231.4,215.6 1231.7,214.1 1231.8,211.0 1232.2,208.8 1232.6,208.0 1232.8,205.6 1233.0,202.2 1233.5,196.7 1233.7,195.0 1233.7,191.0 1234.0,188.2 1234.3,184.7 1234.8,182.8 1235.0,178.5 1235.4,174.7 1235.7,170.1 1235.7,170.0 1236.2,167.6 1236.3,164.0 1236.8,166.0 1237.0,157.2 1237.4,153.7 1237.5,153.5 1237.6,150.3 1237.5,149.4 1237.3,148.5 1237.2,146.2 1236.8,144.3 1236.9,149.2 1237.3,151.3 1237.7,150.2 1237.7,156.3 1238.4,155.9 1238.3,163.0 1239.0,163.2 1239.2,168.5 1239.5,169.5 1239.6,174.3 1240.2,180.0 1240.4,185.2 1240.7,188.0 1240.7,193.0 1241.4,194.7 1241.5,202.8 1241.7,205.9 1242.3,210.2 1242.3,215.3 1242.8,216.9 1242.9,221.2 1243.3,223.2 1243.6,229.1 1244.0,232.6 1244.1,233.1 1244.4,241.0 1244.7,242.9 1245.1,247.0 1245.4,245.0 1245.6,247.7 1246.1,248.4 1246.2,248.2 1246.6,250.1 1247.0,250.6 1247.1,251.4 1247.4,246.8 1247.8,241.2 1248.0,237.3 1248.4,230.6 1248.7,228.5 1248.9,218.6 1249.3,210.0 1249.7,200.5 1249.8,188.7 1250.3,178.7 1250.4,169.5 1250.9,159.9 1251.1,150.4 1251.5,143.5 1251.6,140.1 1252.0,134.4 1252.4,130.0 1252.6,126.2 1252.9,120.9 1253.2,115.3 1253.5,118.6 1253.7,121.6 1254.1,127.8 1254.4,130.9 1254.8,136.6 1254.9,141.8 1255.4,143.6 1255.7,148.8 1255.9,160.5 1256.2,166.5 1256.4,176.0 1256.8,187.0 1257.0,195.3 1257.4,204.1 1257.8,211.9 1258.0,222.1 1258.4,231.0 1258.6,239.1 1259.0,246.6 1259.2,254.0 1259.5,259.0 1259.9,266.4 1260.1,275.0 1260.4,278.7 1260.7,284.1 1261.0,290.5 1261.3,296.7 1261.6,303.2 1262.0,298.4 1262.2,292.7 1262.6,289.3 1262.7,284.3 1263.2,280.0 1263.4,275.6 1263.7,271.0 1264.1,263.8 1264.3,256.5 1264.6,248.5 1265.0,242.7 1265.3,236.9 1265.5,226.9 1265.9,221.4 1266.2,214.9 1266.3,208.5 1266.7,200.9 1267.1,194.6 1267.3,186.3 1267.7,180.5 1267.9,173.9 1268.1,170.1 1268.6,166.4 1268.9,161.9 1269.1,153.7 1269.3,151.0 1269.7,144.4 1270.1,140.0 1270.3,135.7 1270.6,129.9 1271.0,124.7 1271.3,118.7 1271.6,115.3 1271.7,108.7 1272.2,105.2 1272.5,104.5 1272.8,104.0 1273.0,98.5 1273.3,100.0 1273.6,99.4 1273.9,102.4 1274.3,107.4 1274.6,114.6 1274.8,119.1 1275.1,124.9 1275.3,130.3 1275.7,135.7 1275.9,141.3 1276.4,150.2 1276.6,159.0 1276.9,166.5 1277.2,176.8 1277.5,183.7 1277.8,193.1 1278.2,199.4 1278.5,206.9 1278.8,214.8 1279.0,224.0 1279.3,231.3 1279.7,238.7 1280.0,245.0 1280.3,251.9 1280.5,257.9 1280.9,263.6 1281.0,269.9 1281.4,275.4 1281.7,281.2 1282.0,286.5 1282.2,290.5 1282.6,301.1 1282.9,303.9 1283.2,309.9 1283.5,305.5 1283.8,300.5 1284.1,295.8 1284.4,291.4 1284.8,286.0 1285.0,280.6 1285.3,273.8 1285.6,270.9 1286.0,260.0 1286.1,246.9 1286.5,235.2 1286.9,222.3 1287.2,211.7 1287.4,197.6 1287.8,185.8 1288.1,174.2 1288.3,161.5 1288.7,149.6 1288.9,140.1 1289.3,131.5 1289.5,121.6 1289.8,110.1 1290.2,101.8 1290.3,91.4 1290.7,81.2 1291.1,71.6 1291.4,74.5 1291.6,78.9 1291.9,84.2 1292.2,86.9 1292.6,91.8 1292.9,95.5 1293.1,97.3 1293.4,101.3 1293.8,104.7 1294.0,116.5 1294.3,126.4 1294.7,137.3 1294.9,146.4 1295.2,156.5 1295.5,168.0 1295.9,177.1 1296.1,188.8 1296.4,198.8 1296.7,210.8 1297.1,216.1 1297.3,222.7 1297.7,227.9 1297.9,232.9 1298.3,240.7 1298.5,245.0 1298.8,251.0 1299.1,256.8 1299.6,263.6 1299.7,268.9 1300.1,274.9 1300.4,281.3 1300.7,286.5 1300.9,292.9 1301.2,298.9 1301.5,295.0 1301.9,291.8 1302.1,288.3 1302.4,282.8 1302.7,280.5 1303.0,277.4 1303.3,272.8 1303.6,270.3 1303.9,267.1 1304.2,259.2 1304.6,252.1 1304.9,249.7 1305.1,242.8 1305.5,237.4 1305.7,230.9 1306.0,227.3 1306.4,221.4 1306.6,216.1 1307.0,213.2 1307.4,209.9 1307.5,206.6 1307.8,201.6 1308.1,197.2 1308.4,195.1 1308.8,189.1 1309.0,187.2 1309.4,182.3 1309.8,179.0 1310.0,177.7 1310.2,172.0 1310.5,174.9 1310.8,176.4 1311.3,178.0 1311.4,178.1 1311.8,179.6 1312.0,184.1 1312.5,183.6 1312.7,186.1 1312.9,185.1 1313.3,186.1 1313.5,189.0 1313.9,187.6 1314.1,190.5 1314.5,190.7 1314.7,188.8 1315.2,190.8 1315.4,190.2 1315.6,192.9 1316.0,191.0 1316.2,191.8 1316.6,189.7 1316.8,190.5 1317.1,191.2 1317.4,191.8 1317.7,190.2 1318.0,191.0 1318.3,190.0 1318.7,187.8 1319.1,192.6 1319.2,192.9 1319.6,195.4 1320.0,199.2 1320.3,201.1 1320.5,205.3 1320.8,207.7 1321.1,208.6 1321.5,212.1 1321.7,214.8 1321.9,213.5 1322.4,210.6 1322.7,208.4 1322.8,206.1 1323.2,204.5 1323.5,203.9 1323.9,202.3 1324.2,201.8 1324.5,205.1 1324.8,206.3 1325.2,210.7 1325.2,206.6 1325.8,212.0 1325.7,211.1 1326.3,214.6 1326.3,209.9 1326.8,210.1 1326.9,217.1 1327.4,206.2 1327.8,208.7 1328.0,209.4 1328.4,205.8 1328.8,202.3 1328.7,204.4 1329.3,201.4 1329.7,203.9 1330.0,202.0 1330.1,204.9 1330.5,206.1 1330.6,203.8 1330.9,204.8 1331.2,204.4 1331.4,206.9 1331.7,206.4 1332.3,211.0 1332.4,208.1 1332.6,209.8 1333.1,208.2 1333.4,206.1 1333.8,206.3 1334.1,203.1 1334.2,207.6 1334.4,201.6 1335.1,203.9 1335.2,204.1 1335.9,205.9 1336.2,208.6 1336.5,207.0 1336.8,205.2 1337.1,204.7 1337.4,203.1 1337.7,206.2 1338.0,207.2 1338.3,205.6 1338.6,205.7 1338.9,204.3 1339.2,205.9 1339.5,206.6 1339.8,203.5 1340.1,206.9 1340.4,205.3 1340.7,206.6 1341.0,205.7 1341.3,206.3 1341.6,206.1 1341.9,207.0 1342.2,204.5 1342.5,205.6 1342.8,203.8 1343.1,205.8 1343.4,207.5 1343.7,205.3 1344.0,207.4 1344.3,205.0 1344.6,206.3 1344.9,207.7 1345.2,206.2 1345.5,206.4 1345.8,207.9 1346.1,206.7 1346.4,207.2 1346.7,205.3 1347.0,204.6 1347.3,206.9 1347.6,204.1 1347.9,207.5 1348.3,204.9 1348.6,206.2 1348.9,206.9 1349.2,204.1 1349.5,208.6 1349.8,205.7 1350.1,205.4 1350.4,204.2 1350.7,203.3 1351.0,203.1 1351.3,204.3 1351.6,206.5 1351.9,205.0 1352.2,207.4 1352.5,204.3 1352.8,203.6 1353.1,206.4 1353.4,205.3 1353.7,203.7 1354.0,207.7 1354.3,206.1 1354.6,203.8 1354.9,205.0 1355.2,204.4 1355.5,207.3 1355.8,205.0 1356.1,204.9 1356.4,206.1 1356.7,207.8 1357.0,207.5 1357.3,205.7 1357.6,205.3 1357.9,204.9 1358.2,207.0 1358.5,204.3 1358.8,205.6 1359.1,206.6 1359.4,204.9 1359.7,202.6 1360.0,205.0 1360.3,204.7 1360.6,204.5 1360.9,205.0 1361.2,206.7 1361.5,203.9 1361.8,204.2 1362.1,205.5 1362.4,206.8 1362.7,204.7 1363.0,206.4 1363.3,206.9 1363.6,204.8 1363.9,205.4 1364.2,206.7 1364.5,205.9 1364.8,205.0 1365.2,205.5 1365.5,205.4 1365.8,205.7 1366.1,206.0 1366.4,205.8 1366.7,205.0 1367.0,205.7 1367.3,206.0 1367.6,205.4 1367.9,207.4 1368.2,205.1 1368.5,203.2 1368.8,206.9 1369.1,205.1 1369.4,206.0 1369.7,205.4 1370.0,206.6 1370.3,205.1 1370.6,206.2 1370.9,207.2 1371.2,206.3 1371.5,204.8 1371.8,207.4 1372.1,206.8 1372.4,205.6 1372.7,204.2 1373.0,205.9 1373.3,205.6 1373.6,206.1" fill="none" stroke="#ee3124" stroke-width="1.9" stroke-linejoin="round" />
<polyline points="797.6,205.3 918.0,205.3" fill="none" stroke="#3ab54a" stroke-width="2.7" stroke-dasharray="7.8 5.0" stroke-linejoin="round" />
<polyline points="922.0,205.4 922.6,205.8 923.2,205.4 923.8,205.2 924.4,205.2 925.0,205.4 925.6,205.5 926.2,204.9 926.8,205.0 927.4,205.6 928.0,205.2 928.6,205.7 929.2,205.3 929.8,205.1 930.4,205.5 931.0,205.4 931.6,206.2 932.2,205.8 932.8,205.3 933.4,205.4 934.0,205.5 934.6,205.5 935.2,205.6 935.8,205.3 936.4,205.2 937.0,204.8 937.6,205.2 938.2,205.7 938.8,205.4 939.4,205.4 940.0,204.9 940.6,204.6 941.2,205.5 941.8,205.1 942.4,205.1 943.0,204.7 943.6,205.8 944.2,205.8 944.8,204.7 945.4,205.1 946.0,205.2 946.6,205.5 947.2,205.6 947.8,205.3 948.4,205.3 949.0,205.5 949.6,204.7 950.2,205.3 950.8,205.3 951.4,205.4 952.0,205.0 952.6,205.1 953.2,204.9 953.8,205.3 954.4,205.0 955.0,206.1 955.6,205.1 956.2,205.7 956.9,205.1 957.5,205.2 958.1,205.6 958.7,205.2 959.3,206.0 959.9,205.5 960.5,204.7 961.1,205.8 961.7,204.4 962.3,205.2 962.9,205.0 963.5,205.3 964.1,205.0 964.7,205.1 965.3,205.2 965.9,205.5 966.5,205.0 967.1,205.2 967.7,206.1 968.3,206.0 968.9,205.7 969.5,205.3 970.1,205.1 970.7,205.3 971.3,204.9 971.9,205.7 972.5,205.1 973.1,204.6 973.7,205.7 974.3,205.8 974.9,205.6 975.5,205.5 976.1,205.5 976.7,205.8 977.3,205.8 977.9,204.8 978.5,205.5 979.1,205.3 979.7,205.9 980.3,205.2 980.9,205.2 981.5,204.8 982.1,205.3 982.7,205.4 983.3,205.8 983.9,205.2 984.5,205.6 985.1,206.0 985.7,204.9 986.3,205.7 986.9,205.3 987.5,204.7 988.1,205.0 988.7,205.3 989.3,204.9 989.9,205.5 990.5,205.0 991.1,205.7 991.7,205.2 992.3,205.7 992.9,205.7 993.5,205.6 994.1,205.7 994.7,206.3 995.3,205.6 995.9,204.8 996.5,205.2 997.1,205.6 997.7,205.7 998.3,205.1 998.9,205.5 999.5,205.3 1000.1,205.2 1000.7,205.2 1001.3,205.3 1001.9,205.7 1002.5,204.7 1003.1,205.7 1003.7,205.4 1004.3,204.8 1004.9,205.4 1005.5,205.3 1006.1,205.0 1006.7,205.5 1007.3,205.2 1007.9,205.7 1008.5,205.8 1009.1,205.5 1009.7,205.4 1010.3,205.0 1010.9,205.3 1011.5,205.7 1012.1,206.0 1012.7,204.7 1013.3,205.4 1013.9,205.3 1014.5,206.1 1015.1,205.4 1015.7,206.0 1016.3,204.6 1016.9,204.7 1017.5,205.4 1018.1,204.8 1018.7,204.6 1019.3,205.2 1019.9,205.2 1020.5,205.4 1021.1,205.8 1021.7,205.0 1022.3,205.1 1022.9,204.8 1023.5,205.3 1024.1,205.7 1024.8,205.7 1025.4,204.5 1026.0,205.5 1026.6,205.2 1027.2,205.1 1027.8,204.9 1028.4,205.1 1029.0,205.4 1029.6,205.6 1030.2,205.6 1030.8,205.0 1031.4,205.3 1032.0,205.0 1032.6,205.6 1033.2,205.3 1033.8,204.8 1034.4,205.7 1035.0,205.9 1035.6,204.7 1036.2,205.9 1036.8,205.5 1037.4,205.3 1038.0,204.5 1038.6,204.9 1039.2,205.0 1039.8,205.6 1040.4,205.3 1041.0,205.4 1041.6,205.3 1042.2,205.5 1042.8,205.2 1043.4,205.8 1044.0,204.5 1044.6,205.0 1045.2,205.2 1045.8,205.0 1046.4,205.8 1047.0,205.1 1047.6,204.6 1048.2,205.1 1048.8,205.1 1049.4,205.0 1050.0,205.1 1050.6,205.1 1051.2,205.6 1051.8,205.3 1052.4,205.4 1053.0,205.3 1053.6,205.7 1054.2,205.3 1054.8,205.4 1055.4,205.7 1056.0,205.8 1056.6,205.7 1057.2,205.0 1057.8,204.8 1058.4,206.3 1059.0,204.8 1059.6,205.1 1060.2,204.8 1060.8,205.4 1061.4,205.3 1062.0,204.5 1062.6,205.7 1063.2,205.1 1063.8,205.7 1064.4,205.7 1065.0,205.3 1065.6,205.7 1066.2,205.0 1066.8,205.3 1067.4,205.3 1068.0,205.4 1068.6,205.5 1069.2,205.4 1069.8,205.2 1070.4,205.5 1071.0,205.2 1071.6,205.6 1072.2,205.0 1072.8,204.9 1073.4,206.1 1074.0,204.9 1074.6,205.6 1075.2,205.9 1075.8,205.6 1076.4,205.5 1077.0,205.3 1077.6,205.3 1078.2,205.0 1078.8,205.5 1079.4,205.6 1080.0,204.9 1080.6,204.6 1081.2,206.4 1081.8,205.3 1082.4,204.9 1083.0,205.0 1083.6,205.6 1084.2,205.8 1084.8,205.0 1085.4,205.2 1086.0,205.5 1086.6,205.1 1087.2,205.4 1087.8,205.5 1088.4,205.6 1089.0,205.7 1089.6,205.4 1090.2,205.1 1090.8,204.9 1091.4,205.3 1092.0,205.0 1092.6,205.2 1093.2,205.2 1093.9,205.3 1094.5,205.6 1095.1,205.4 1095.7,205.3 1096.3,205.9 1096.9,205.3 1097.5,205.9 1098.1,205.3 1098.7,205.5 1099.3,205.0 1099.9,205.3 1100.5,205.0 1101.1,205.8 1101.7,205.4 1102.3,205.8 1102.9,205.5 1103.5,205.0 1104.1,204.5 1104.7,205.3 1105.3,205.1 1105.9,205.2 1106.5,205.4 1107.1,205.4 1107.7,205.2 1108.3,205.4 1108.9,205.1 1109.5,205.0 1110.1,205.2 1110.7,205.7 1111.3,205.5 1111.9,205.2 1112.5,205.5 1113.1,205.5 1113.7,205.0 1114.3,206.0 1114.9,205.2 1115.5,205.0 1116.1,205.4 1116.7,205.4 1117.3,205.8 1117.9,205.8 1118.5,205.2 1119.1,205.1 1119.7,205.2 1120.3,205.2 1120.9,205.0 1121.5,205.3 1122.1,205.7 1122.7,205.6 1123.3,205.2 1123.9,204.9 1124.5,205.5 1125.1,205.7 1125.7,204.8 1126.3,205.5 1126.9,205.9 1127.5,205.7 1128.1,205.5 1128.7,205.3 1129.3,205.1 1129.9,205.4 1130.5,205.7 1131.1,205.6 1131.7,205.6 1132.3,205.3 1132.9,205.2 1133.5,205.8 1134.1,205.4 1134.7,205.6 1135.3,205.2 1135.9,205.0 1136.5,205.4 1137.1,205.4 1137.7,204.3 1138.3,205.0 1138.9,205.4 1139.5,205.2 1140.1,204.9 1140.7,205.3 1141.3,205.5 1141.9,205.8 1142.5,204.7 1143.1,205.3 1143.7,205.1 1144.3,206.1 1144.9,205.5 1145.5,204.9 1146.1,205.5 1146.7,205.6 1147.3,205.7 1147.9,205.7 1148.5,205.2 1149.1,204.9 1149.7,205.4 1150.3,205.3 1150.9,205.2 1151.5,204.7 1152.1,205.5 1152.7,205.5 1153.3,205.7 1153.9,205.4 1154.5,205.2 1155.1,205.0 1155.7,205.2 1156.3,205.0 1156.9,205.2 1157.5,205.0 1158.1,205.7 1158.7,205.2 1159.3,205.4 1159.9,205.3 1160.5,205.2 1161.1,204.6 1161.8,205.2 1162.4,205.1 1163.0,205.7 1163.6,204.9 1164.2,205.6 1164.8,205.5 1165.4,205.3 1166.0,205.3 1166.6,205.6 1167.2,205.4 1167.8,206.1 1168.4,204.5 1169.0,205.0 1169.6,206.0 1170.2,205.5 1170.8,204.6 1171.4,204.5 1172.0,204.8 1172.6,204.8 1173.2,204.6 1173.8,205.1 1174.4,205.2 1175.0,204.9 1175.6,205.3 1176.2,205.1 1176.8,205.6 1177.4,204.8 1178.0,205.3 1178.6,205.3 1179.2,205.6 1179.8,204.9 1180.4,205.3 1181.0,204.9 1181.6,205.5 1182.2,205.5 1182.8,205.7 1183.4,205.2 1184.0,205.9 1184.6,205.1 1185.2,204.7 1185.8,205.0 1186.4,205.3 1187.0,205.7 1187.6,205.1 1188.2,205.1 1188.8,205.5 1189.4,204.9 1190.0,205.6 1190.6,205.5 1191.2,204.9 1191.8,205.3 1192.4,205.1 1193.0,205.0 1193.6,205.4 1194.2,205.2 1194.8,205.6 1195.4,205.3 1196.0,204.7" fill="none" stroke="#3ab54a" stroke-width="2.0" stroke-dasharray="6.3 6.0" stroke-linejoin="round" />
<polyline points="1197.0,205.5 1197.9,205.9 1198.7,206.7 1199.6,207.9 1200.5,209.1 1201.4,210.3 1202.2,211.1 1203.1,211.5 1203.9,210.8 1204.7,209.4 1205.6,207.3 1206.4,204.7 1207.2,201.8 1208.0,198.8 1208.8,195.9 1209.6,193.3 1210.5,191.2 1211.3,189.8 1212.1,189.1 1212.9,189.9 1213.7,191.6 1214.5,194.0 1215.3,197.0 1216.1,200.6 1216.9,204.4 1217.8,208.3 1218.6,212.1 1219.4,215.7 1220.2,218.7 1221.0,221.1 1221.8,222.8 1222.6,223.6 1223.4,221.7 1224.3,217.6 1225.1,211.7 1226.0,204.5 1226.8,196.6 1227.6,188.7 1228.5,181.5 1229.3,175.6 1230.2,171.5 1231.0,169.6 1231.8,171.8 1232.7,176.4 1233.5,183.0 1234.4,191.3 1235.2,200.7 1236.1,210.8 1237.0,221.0 1237.8,230.4 1238.7,238.7 1239.5,245.3 1240.4,249.9 1241.2,252.1 1242.0,248.5 1242.8,241.2 1243.7,230.4 1244.5,217.1 1245.3,202.1 1246.1,186.6 1246.9,171.6 1247.7,158.3 1248.6,147.5 1249.4,140.2 1250.2,136.6 1251.0,140.7 1251.8,149.0 1252.7,161.2 1253.5,176.4 1254.3,193.8 1255.2,212.4 1256.0,231.0 1256.8,248.4 1257.6,263.6 1258.4,275.8 1259.3,284.1 1260.1,288.2 1260.9,282.5 1261.7,270.8 1262.6,253.8 1263.4,232.7 1264.2,208.9 1265.0,184.3 1265.8,160.5 1266.6,139.4 1267.5,122.4 1268.3,110.7 1269.1,105.0 1269.9,110.6 1270.8,122.1 1271.6,138.8 1272.4,159.8 1273.2,183.8 1274.0,209.3 1274.9,234.9 1275.7,258.9 1276.5,279.9 1277.3,296.6 1278.2,308.1 1279.0,313.7 1279.9,306.8 1280.7,292.6 1281.6,272.0 1282.5,246.4 1283.4,217.6 1284.2,187.6 1285.1,158.8 1286.0,133.2 1286.9,112.6 1287.7,98.4 1288.6,91.5 1289.4,97.6 1290.2,110.1 1291.0,128.2 1291.8,151.0 1292.6,177.1 1293.4,204.8 1294.2,232.6 1295.0,258.7 1295.8,281.5 1296.6,299.6 1297.4,312.1 1298.2,318.2 1299.0,312.3 1299.9,300.2 1300.7,282.7 1301.5,260.7 1302.4,235.5 1303.2,208.6 1304.0,181.7 1304.9,156.5 1305.7,134.5 1306.5,117.0 1307.4,104.9 1308.2,99.0 1309.0,105.1 1309.8,117.8 1310.7,136.2 1311.5,159.1 1312.3,184.8 1313.1,211.4 1313.9,237.1 1314.7,260.0 1315.6,278.4 1316.4,291.1 1317.2,297.2 1318.0,292.6 1318.8,283.2 1319.7,269.6 1320.5,252.4 1321.3,232.8 1322.2,211.9 1323.0,191.0 1323.8,171.4 1324.6,154.2 1325.4,140.6 1326.3,131.2 1327.1,126.6 1327.9,130.4 1328.7,138.3 1329.5,149.7 1330.3,164.0 1331.1,180.4 1331.9,197.9 1332.7,215.4 1333.5,231.8 1334.3,246.1 1335.1,257.5 1335.9,265.4 1336.7,269.2 1337.5,266.2 1338.3,260.2 1339.2,251.4 1340.0,240.3 1340.8,227.6 1341.7,214.2 1342.5,200.7 1343.3,188.0 1344.1,176.9 1344.9,168.1 1345.8,162.1 1346.6,159.1 1347.4,161.6 1348.2,166.7 1349.1,174.1 1349.9,183.4 1350.7,193.8 1351.5,204.5 1352.3,214.9 1353.1,224.2 1354.0,231.6 1354.8,236.7 1355.6,239.2 1356.4,237.6 1357.2,234.5 1358.0,229.9 1358.8,224.1 1359.6,217.5 1360.4,210.4 1361.2,203.3 1362.0,196.7 1362.8,190.9 1363.6,186.3 1364.4,183.2 1365.2,181.6 1366.0,182.8 1366.9,185.4 1367.7,189.2 1368.6,193.8 1369.4,198.8 1370.2,203.9 1371.1,208.5 1371.9,212.3 1372.8,214.9 1373.6,216.1" fill="none" stroke="#3ab54a" stroke-width="1.9" stroke-dasharray="6.5 6.3" stroke-linejoin="round" />
<path d="M988.8,151.4H928.3M946.8,147.1L928.3,151.4L946.8,155.8" fill="none" stroke="#ee3124" stroke-width="1.8" stroke-linejoin="miter"/>
<path d="M1307.5,151.4H1348.4M1334.4,148.1L1348.4,151.4L1334.4,154.8" fill="none" stroke="#ee3124" stroke-width="1.8" stroke-linejoin="miter"/>
<rect x="795.7" y="61.8" width="579.8" height="286.4" fill="none" stroke="#000" stroke-width="3.7"/>
<path d="M437.6,844.4V822.4M202.1,605.8H224.1M202.1,725.1H224.1" stroke="#000" stroke-width="3.7" fill="none"/>
<polyline points="392.1,842.1 397.9,837.1" fill="none" stroke="#2e4a9e" stroke-width="3.7" stroke-linejoin="round" />
<polyline points="407.1,838.3 414.3,836.7" fill="none" stroke="#2e4a9e" stroke-width="3.7" stroke-linejoin="round" />
<polyline points="424.6,835.7 431.7,834.0" fill="none" stroke="#2e4a9e" stroke-width="3.7" stroke-linejoin="round" />
<polyline points="441.4,833.6 448.3,830.3" fill="none" stroke="#2e4a9e" stroke-width="3.7" stroke-linejoin="round" />
<polyline points="458.6,830.0 465.7,827.1" fill="none" stroke="#2e4a9e" stroke-width="3.7" stroke-linejoin="round" />
<polyline points="475.0,823.6 481.7,820.4" fill="none" stroke="#2e4a9e" stroke-width="3.7" stroke-linejoin="round" />
<polyline points="489.7,815.0 496.0,810.3" fill="none" stroke="#2e4a9e" stroke-width="3.7" stroke-linejoin="round" />
<polyline points="503.6,804.3 510.7,800.7" fill="none" stroke="#2e4a9e" stroke-width="3.7" stroke-linejoin="round" />
<polyline points="518.6,801.4 525.7,806.4" fill="none" stroke="#2e4a9e" stroke-width="3.7" stroke-linejoin="round" />
<polyline points="531.4,813.6 541.4,820.0" fill="none" stroke="#2e4a9e" stroke-width="3.7" stroke-linejoin="round" />
<polyline points="551.4,824.3 555.0,828.6" fill="none" stroke="#2e4a9e" stroke-width="3.7" stroke-linejoin="round" />
<polyline points="557.1,838.6 559.3,842.9" fill="none" stroke="#2e4a9e" stroke-width="3.7" stroke-linejoin="round" />
<polyline points="201.1,845.2 389.8,845.2 392.2,832.5 396.2,823.4 398.0,822.7 528.0,822.7" fill="none" stroke="#3ab54a" stroke-width="5.2" stroke-dasharray="6.7 6.1" stroke-linejoin="round" />
<polyline points="531.4,822.7 541.8,822.7" fill="none" stroke="#3ab54a" stroke-width="5.2" stroke-linejoin="round" />
<polyline points="548.6,822.7 551.7,822.7 555.9,830.4 559.5,843.5 561.0,845.2 673.0,845.2" fill="none" stroke="#3ab54a" stroke-width="5.2" stroke-dasharray="6.7 6.1" stroke-linejoin="round" />
<polyline points="204.0,844.4 527.9,844.2 530.1,838.7 537.1,607.3 541.0,671.0 543.8,701.8 547.2,692.9 553.9,760.5 556.7,813.6 560.0,838.2 563.4,837.9 569.0,843.6 671.2,844.4" fill="none" stroke="#ee3124" stroke-width="1.9" stroke-linejoin="miter" />
<rect x="202.1" y="558.2" width="471.0" height="286.2" fill="none" stroke="#000" stroke-width="3.7"/>
<path d="M1089.7,844.5V822.5M854.2,653.8H876.2M854.2,749.1H876.2" stroke="#000" stroke-width="3.7" fill="none"/>
<polyline points="1041.4,824.3 1043.6,815.7" fill="none" stroke="#2e4a9e" stroke-width="3.7" stroke-linejoin="round" />
<polyline points="1044.6,803.6 1045.7,795.0" fill="none" stroke="#2e4a9e" stroke-width="3.7" stroke-linejoin="round" />
<polyline points="1052.6,797.9 1057.4,791.7" fill="none" stroke="#2e4a9e" stroke-width="3.7" stroke-linejoin="round" />
<polyline points="1062.1,783.6 1066.9,777.4" fill="none" stroke="#2e4a9e" stroke-width="3.7" stroke-linejoin="round" />
<polyline points="1070.7,768.3 1076.0,762.6" fill="none" stroke="#2e4a9e" stroke-width="3.7" stroke-linejoin="round" />
<polyline points="1082.6,756.0 1085.7,752.9 1088.3,752.4" fill="none" stroke="#2e4a9e" stroke-width="3.7" stroke-linejoin="round" />
<polyline points="1096.4,754.6 1100.7,748.6" fill="none" stroke="#2e4a9e" stroke-width="3.7" stroke-linejoin="round" />
<polyline points="1107.1,751.1 1113.6,753.6" fill="none" stroke="#2e4a9e" stroke-width="3.7" stroke-linejoin="round" />
<polyline points="1123.6,751.7 1128.6,745.0" fill="none" stroke="#2e4a9e" stroke-width="3.7" stroke-linejoin="round" />
<polyline points="1134.3,747.9 1140.7,752.1" fill="none" stroke="#2e4a9e" stroke-width="3.7" stroke-linejoin="round" />
<polyline points="1150.7,748.1 1153.6,745.3 1156.0,745.0" fill="none" stroke="#2e4a9e" stroke-width="3.7" stroke-linejoin="round" />
<polyline points="1165.7,751.1 1172.1,753.3" fill="none" stroke="#2e4a9e" stroke-width="3.7" stroke-linejoin="round" />
<polyline points="1182.1,755.7 1193.6,757.9" fill="none" stroke="#2e4a9e" stroke-width="3.7" stroke-linejoin="round" />
<polyline points="1203.3,764.3 1205.7,768.6" fill="none" stroke="#2e4a9e" stroke-width="3.7" stroke-linejoin="round" />
<polyline points="1207.4,784.3 1208.9,787.9" fill="none" stroke="#2e4a9e" stroke-width="3.7" stroke-linejoin="round" />
<polyline points="1208.6,797.1 1209.0,805.0" fill="none" stroke="#2e4a9e" stroke-width="3.7" stroke-linejoin="round" />
<polyline points="1209.6,815.4 1210.0,817.9" fill="none" stroke="#2e4a9e" stroke-width="3.7" stroke-linejoin="round" />
<polyline points="1211.1,835.0 1213.1,840.7" fill="none" stroke="#2e4a9e" stroke-width="3.7" stroke-linejoin="round" />
<polyline points="853.1,845.3 1038.7,845.3 1040.7,835.7 1042.9,822.9 1043.3,810.0 1044.0,797.1 1044.3,784.3 1045.4,772.1 1047.1,760.0 1048.5,758.9 1053.5,758.9" fill="none" stroke="#3ab54a" stroke-width="5.2" stroke-dasharray="6.7 6.1" stroke-linejoin="round" />
<polyline points="1056.7,758.9 1179.0,758.9" fill="none" stroke="#3ab54a" stroke-width="5.2" stroke-dasharray="6.6 5.9" stroke-linejoin="round" />
<polyline points="1183.5,758.9 1193.5,758.9" fill="none" stroke="#3ab54a" stroke-width="5.2" stroke-linejoin="round" />
<polyline points="1200.3,758.4 1204.5,758.6 1206.9,768.0 1207.9,783.6 1208.6,807.9 1209.3,820.7 1210.7,833.6 1214.5,845.3 1327.0,845.3" fill="none" stroke="#3ab54a" stroke-width="5.2" stroke-dasharray="6.7 6.1" stroke-linejoin="round" />
<polyline points="855.5,844.2 989.9,843.9 992.6,838.5 996.1,816.8 999.4,811.9 1002.9,813.5 1006.1,814.1 1009.4,829.0 1012.9,834.4 1016.2,841.2 1019.2,835.8 1022.4,822.2 1025.7,819.5 1028.9,822.2 1032.2,816.8 1035.5,786.1 1038.7,799.2 1042.0,828.5 1045.2,829.6 1048.5,827.7 1052.3,817.3 1055.5,823.6 1059.1,829.8 1062.6,833.6 1065.9,832.3 1069.1,826.3 1072.4,828.5 1076.2,835.8 1078.9,827.7 1082.1,793.7 1085.4,828.5 1088.7,815.4 1091.9,808.7 1107.9,755.7 1111.5,782.9 1114.7,770.7 1118.0,772.6 1121.2,770.7 1124.5,787.5 1128.3,772.6 1131.6,775.3 1134.8,753.0 1138.1,766.6 1141.3,773.4 1144.6,770.7 1147.8,753.0 1151.1,747.6 1154.4,770.7 1157.6,770.7 1160.9,742.1 1164.1,754.4 1167.4,758.4 1170.6,748.9 1174.4,743.5 1177.2,747.6 1180.4,727.2 1183.7,651.2 1187.5,652.6 1190.7,706.9 1194.5,729.9 1197.8,683.8 1201.0,662.1 1204.3,746.2 1206.5,815.4 1209.2,830.4 1211.4,834.4 1214.1,826.3 1216.8,808.7 1220.0,841.2 1223.3,830.4 1226.6,829.0 1229.8,839.3 1233.1,837.2 1236.3,836.6 1239.6,838.5 1242.8,841.2 1246.1,836.6 1249.4,837.2 1253.2,838.5 1256.4,828.5 1259.7,835.8 1262.9,800.5 1266.2,833.1 1269.4,837.2 1272.7,841.2 1276.0,834.4 1279.2,832.3 1282.5,829.0 1285.7,841.2 1289.0,842.6 1292.2,841.2 1295.5,842.6 1299.3,843.9 1323.2,844.2" fill="none" stroke="#ee3124" stroke-width="1.9" stroke-linejoin="miter" />
<rect x="854.2" y="558.4" width="471.1" height="286.1" fill="none" stroke="#000" stroke-width="3.7"/>
<text x="290.5" y="621.4" font-size="49" text-anchor="end" font-weight="normal" stroke="#000" stroke-width="0.7" stroke-linejoin="round" >ne</text>
<text x="290.5" y="670.1" font-size="49" text-anchor="end" font-weight="normal" stroke="#000" stroke-width="0.7" stroke-linejoin="round" >ni</text>
<text x="290.5" y="718.6" font-size="49" text-anchor="end" font-weight="normal" stroke="#000" stroke-width="0.7" stroke-linejoin="round" >n0</text>
<path d="M319.0,604.7h139.3" stroke="#ee3124" stroke-width="1.9"/>
<path d="M319.0,653.9h129" stroke="#2e4a9e" stroke-width="3.7" stroke-dasharray="7.4 10.1"/>
<path d="M319.0,702.4h134" stroke="#3ab54a" stroke-width="5.2" stroke-dasharray="6.7 6.1"/>
<text x="941.8" y="621.5" font-size="49" text-anchor="end" font-weight="normal" stroke="#000" stroke-width="0.7" stroke-linejoin="round" >ne</text>
<text x="941.8" y="669.9" font-size="49" text-anchor="end" font-weight="normal" stroke="#000" stroke-width="0.7" stroke-linejoin="round" >ni</text>
<text x="941.8" y="718.4" font-size="49" text-anchor="end" font-weight="normal" stroke="#000" stroke-width="0.7" stroke-linejoin="round" >n0</text>
<path d="M970.8,604.8h139.3" stroke="#ee3124" stroke-width="1.9"/>
<path d="M970.8,653.7h129" stroke="#2e4a9e" stroke-width="3.7" stroke-dasharray="7.4 10.1"/>
<path d="M970.8,702.2h134" stroke="#3ab54a" stroke-width="5.2" stroke-dasharray="6.7 6.1"/>
<text x="691.8" y="29.3" font-size="39" text-anchor="start" font-weight="bold" stroke="#000" stroke-width="0.25" stroke-linejoin="round" >a)</text>
<text x="1339.4" y="28.9" font-size="39" text-anchor="start" font-weight="bold" stroke="#000" stroke-width="0.25" stroke-linejoin="round" >b)</text>
<text x="640.4" y="527.3" font-size="39" text-anchor="start" font-weight="bold" stroke="#000" stroke-width="0.25" stroke-linejoin="round" >c)</text>
<text x="1337.9" y="527.0" font-size="39" text-anchor="start" font-weight="bold" stroke="#000" stroke-width="0.25" stroke-linejoin="round" >d)</text>
<text x="114.0" y="132.3" font-size="49" text-anchor="end" font-weight="normal" stroke="#000" stroke-width="0.7" stroke-linejoin="round" >5</text>
<text x="114.0" y="221.9" font-size="49" text-anchor="end" font-weight="normal" stroke="#000" stroke-width="0.7" stroke-linejoin="round" >0</text>
<text x="114.0" y="311.6" font-size="49" text-anchor="end" font-weight="normal" stroke="#000" stroke-width="0.7" stroke-linejoin="round" >-5</text>
<text x="143.6" y="414.0" font-size="49" text-anchor="middle" font-weight="normal" stroke="#000" stroke-width="0.7" stroke-linejoin="round" >20</text>
<text x="336.6" y="414.0" font-size="49" text-anchor="middle" font-weight="normal" stroke="#000" stroke-width="0.7" stroke-linejoin="round" >30</text>
<text x="529.9" y="414.0" font-size="49" text-anchor="middle" font-weight="normal" stroke="#000" stroke-width="0.7" stroke-linejoin="round" >40</text>
<text x="722.9" y="414.0" font-size="49" text-anchor="middle" font-weight="normal" stroke="#000" stroke-width="0.7" stroke-linejoin="round" >50</text>
<text x="795.7" y="414.0" font-size="49" text-anchor="middle" font-weight="normal" stroke="#000" stroke-width="0.7" stroke-linejoin="round" >20</text>
<text x="989.0" y="414.0" font-size="49" text-anchor="middle" font-weight="normal" stroke="#000" stroke-width="0.7" stroke-linejoin="round" >30</text>
<text x="1182.2" y="414.0" font-size="49" text-anchor="middle" font-weight="normal" stroke="#000" stroke-width="0.7" stroke-linejoin="round" >40</text>
<text x="1375.5" y="414.0" font-size="49" text-anchor="middle" font-weight="normal" stroke="#000" stroke-width="0.7" stroke-linejoin="round" >50</text>
<text x="364.0" y="451.4" font-size="49" text-anchor="start" font-weight="normal" stroke="#000" stroke-width="0.7" stroke-linejoin="round" >z (<tspan font-family="Liberation Serif" font-size="50" dx="3" fill="none" stroke="none">&#956;</tspan><tspan dx="-2.6">m</tspan><tspan dx="0.2">)</tspan></text>
<path transform="translate(425.9,451.4)" d="M0,-23.2H4.32V-6.4C4.6,-4.6 6.5,-3.8 8.6,-3.85C11.5,-3.9 14,-5 15.3,-7.6V-23.2H19.6V-4.5C19.8,-3.2 21,-2.8 22.8,-2.9C21.5,-1.2 19,-0.6 16.8,-1.6L15.6,-3.0C13.5,-1.2 11,-0.5 8.6,-0.5C6.8,-0.5 5.3,-1.0 4.32,-2.0C3.2,-0.8 2.6,1.5 2.9,3.5C3.3,5 4.1,6 3.9,7.2C3.7,8.5 2.8,8.9 2.2,8.9C1,8.9 0.2,7.8 0.1,6.5L0,5Z" fill="#000" stroke="#000" stroke-width="0.3"/>
<text x="1016.0" y="451.4" font-size="49" text-anchor="start" font-weight="normal" stroke="#000" stroke-width="0.7" stroke-linejoin="round" >z (<tspan font-family="Liberation Serif" font-size="50" dx="3" fill="none" stroke="none">&#956;</tspan><tspan dx="-2.6">m</tspan><tspan dx="0.2">)</tspan></text>
<path transform="translate(1077.9,451.4)" d="M0,-23.2H4.32V-6.4C4.6,-4.6 6.5,-3.8 8.6,-3.85C11.5,-3.9 14,-5 15.3,-7.6V-23.2H19.6V-4.5C19.8,-3.2 21,-2.8 22.8,-2.9C21.5,-1.2 19,-0.6 16.8,-1.6L15.6,-3.0C13.5,-1.2 11,-0.5 8.6,-0.5C6.8,-0.5 5.3,-1.0 4.32,-2.0C3.2,-0.8 2.6,1.5 2.9,3.5C3.3,5 4.1,6 3.9,7.2C3.7,8.5 2.8,8.9 2.2,8.9C1,8.9 0.2,7.8 0.1,6.5L0,5Z" fill="#000" stroke="#000" stroke-width="0.3"/>
<text x="162.4" y="328.5" font-size="48.6" text-anchor="start" font-weight="normal" stroke="#000" stroke-width="0.7" stroke-linejoin="round" >Circular</text>
<text x="815.0" y="328.0" font-size="48.6" text-anchor="start" font-weight="normal" stroke="#000" stroke-width="0.7" stroke-linejoin="round" >Linear</text>
<text x="172.5" y="622.8" font-size="49" text-anchor="end" font-weight="normal" stroke="#000" stroke-width="0.7" stroke-linejoin="round" >0.0</text>
<text x="172.5" y="742.1" font-size="49" text-anchor="end" font-weight="normal" stroke="#000" stroke-width="0.7" stroke-linejoin="round" >5.0</text>
<text x="172.5" y="861.4" font-size="49" text-anchor="end" font-weight="normal" stroke="#000" stroke-width="0.7" stroke-linejoin="round" >0.0</text>
<path transform="translate(77.15,622.80) scale(0.0490,-0.0490)" d="M359,0V709H291C281,655 235,575 101,568V505H273V0Z" fill="#000" stroke="#000" stroke-width="14.3" stroke-linejoin="round"/>
<text x="824.5" y="575.2" font-size="49" text-anchor="end" font-weight="normal" stroke="#000" stroke-width="0.7" stroke-linejoin="round" >3.0</text>
<text x="824.5" y="670.6" font-size="49" text-anchor="end" font-weight="normal" stroke="#000" stroke-width="0.7" stroke-linejoin="round" >2.0</text>
<text x="824.5" y="765.9" font-size="49" text-anchor="end" font-weight="normal" stroke="#000" stroke-width="0.7" stroke-linejoin="round" >.0</text>
<text x="824.5" y="861.3" font-size="49" text-anchor="end" font-weight="normal" stroke="#000" stroke-width="0.7" stroke-linejoin="round" >0.0</text>
<path transform="translate(756.39,765.90) scale(0.0490,-0.0490)" d="M359,0V709H291C281,655 235,575 101,568V505H273V0Z" fill="#000" stroke="#000" stroke-width="14.3" stroke-linejoin="round"/>
<text x="201.6" y="910.0" font-size="49" text-anchor="middle" font-weight="normal" stroke="#000" stroke-width="0.7" stroke-linejoin="round" >38</text>
<text x="436.6" y="910.0" font-size="49" text-anchor="middle" font-weight="normal" stroke="#000" stroke-width="0.7" stroke-linejoin="round" >39</text>
<text x="672.6" y="910.0" font-size="49" text-anchor="middle" font-weight="normal" stroke="#000" stroke-width="0.7" stroke-linejoin="round" >40</text>
<text x="853.6" y="909.3" font-size="49" text-anchor="middle" font-weight="normal" stroke="#000" stroke-width="0.7" stroke-linejoin="round" >38</text>
<text x="1088.9" y="909.3" font-size="49" text-anchor="middle" font-weight="normal" stroke="#000" stroke-width="0.7" stroke-linejoin="round" >39</text>
<text x="1324.6" y="909.3" font-size="49" text-anchor="middle" font-weight="normal" stroke="#000" stroke-width="0.7" stroke-linejoin="round" >40</text>
<text x="368.5" y="954.8" font-size="49" text-anchor="start" font-weight="normal" stroke="#000" stroke-width="0.7" stroke-linejoin="round" >z (<tspan font-family="Liberation Serif" font-size="50" dx="3" fill="none" stroke="none">&#956;</tspan><tspan dx="-2.6">m</tspan><tspan dx="0.2">)</tspan></text>
<path transform="translate(430.4,954.8)" d="M0,-23.2H4.32V-6.4C4.6,-4.6 6.5,-3.8 8.6,-3.85C11.5,-3.9 14,-5 15.3,-7.6V-23.2H19.6V-4.5C19.8,-3.2 21,-2.8 22.8,-2.9C21.5,-1.2 19,-0.6 16.8,-1.6L15.6,-3.0C13.5,-1.2 11,-0.5 8.6,-0.5C6.8,-0.5 5.3,-1.0 4.32,-2.0C3.2,-0.8 2.6,1.5 2.9,3.5C3.3,5 4.1,6 3.9,7.2C3.7,8.5 2.8,8.9 2.2,8.9C1,8.9 0.2,7.8 0.1,6.5L0,5Z" fill="#000" stroke="#000" stroke-width="0.3"/>
<text x="1020.5" y="955.0" font-size="49" text-anchor="start" font-weight="normal" stroke="#000" stroke-width="0.7" stroke-linejoin="round" >z (<tspan font-family="Liberation Serif" font-size="50" dx="3" fill="none" stroke="none">&#956;</tspan><tspan dx="-2.6">m</tspan><tspan dx="0.2">)</tspan></text>
<path transform="translate(1082.4,955.0)" d="M0,-23.2H4.32V-6.4C4.6,-4.6 6.5,-3.8 8.6,-3.85C11.5,-3.9 14,-5 15.3,-7.6V-23.2H19.6V-4.5C19.8,-3.2 21,-2.8 22.8,-2.9C21.5,-1.2 19,-0.6 16.8,-1.6L15.6,-3.0C13.5,-1.2 11,-0.5 8.6,-0.5C6.8,-0.5 5.3,-1.0 4.32,-2.0C3.2,-0.8 2.6,1.5 2.9,3.5C3.3,5 4.1,6 3.9,7.2C3.7,8.5 2.8,8.9 2.2,8.9C1,8.9 0.2,7.8 0.1,6.5L0,5Z" fill="#000" stroke="#000" stroke-width="0.3"/>
<text transform="rotate(-90)" x="-360.0" y="44.1" font-size="49" stroke="#000" stroke-width="0.7" stroke-linejoin="round">Ey (x</text>
<path transform="rotate(-90) translate(-248.38,44.10) scale(0.0490,-0.0490)" d="M359,0V709H291C281,655 235,575 101,568V505H273V0Z" fill="#000" stroke="#000" stroke-width="14.3" stroke-linejoin="round"/>
<text transform="rotate(-90)" x="-221.1" y="44.1" font-size="49" stroke="#000" stroke-width="0.7" stroke-linejoin="round">0</text>
<path transform="rotate(-90) translate(-193.80,25.20) scale(0.0340,-0.0340)" d="M359,0V709H291C281,655 235,575 101,568V505H273V0Z" fill="#000" stroke="#000" stroke-width="14.7" stroke-linejoin="round"/>
<text transform="rotate(-90)" x="-174.9" y="25.2" font-size="34" stroke="#000" stroke-width="0.5" stroke-linejoin="round">4</text>
<text transform="rotate(-90)" x="-153.8" y="44.1" font-size="49" stroke="#000" stroke-width="0.7" stroke-linejoin="round">V/m)</text>
<text transform="rotate(-90)" x="-864.8" y="44.2" font-size="49" stroke="#000" stroke-width="0.7" stroke-linejoin="round">n (x</text>
<path transform="rotate(-90) translate(-769.49,44.20) scale(0.0490,-0.0490)" d="M359,0V709H291C281,655 235,575 101,568V505H273V0Z" fill="#000" stroke="#000" stroke-width="14.3" stroke-linejoin="round"/>
<text transform="rotate(-90)" x="-742.3" y="44.2" font-size="49" stroke="#000" stroke-width="0.7" stroke-linejoin="round">0</text>
<text transform="rotate(-90)" x="-713.2" y="25.5" font-size="34" stroke="#000" stroke-width="0.5" stroke-linejoin="round">22</text>
<text transform="rotate(-90)" x="-661.3" y="44.2" font-size="49" stroke="#000" stroke-width="0.7" stroke-linejoin="round">cm</text>
<text transform="rotate(-90)" x="-598.0" y="25.5" font-size="34" stroke="#000" stroke-width="0.5" stroke-linejoin="round">-3</text>
<text transform="rotate(-90)" x="-555.5" y="44.2" font-size="49" stroke="#000" stroke-width="0.7" stroke-linejoin="round">)</text>
</svg>
</body></html>
